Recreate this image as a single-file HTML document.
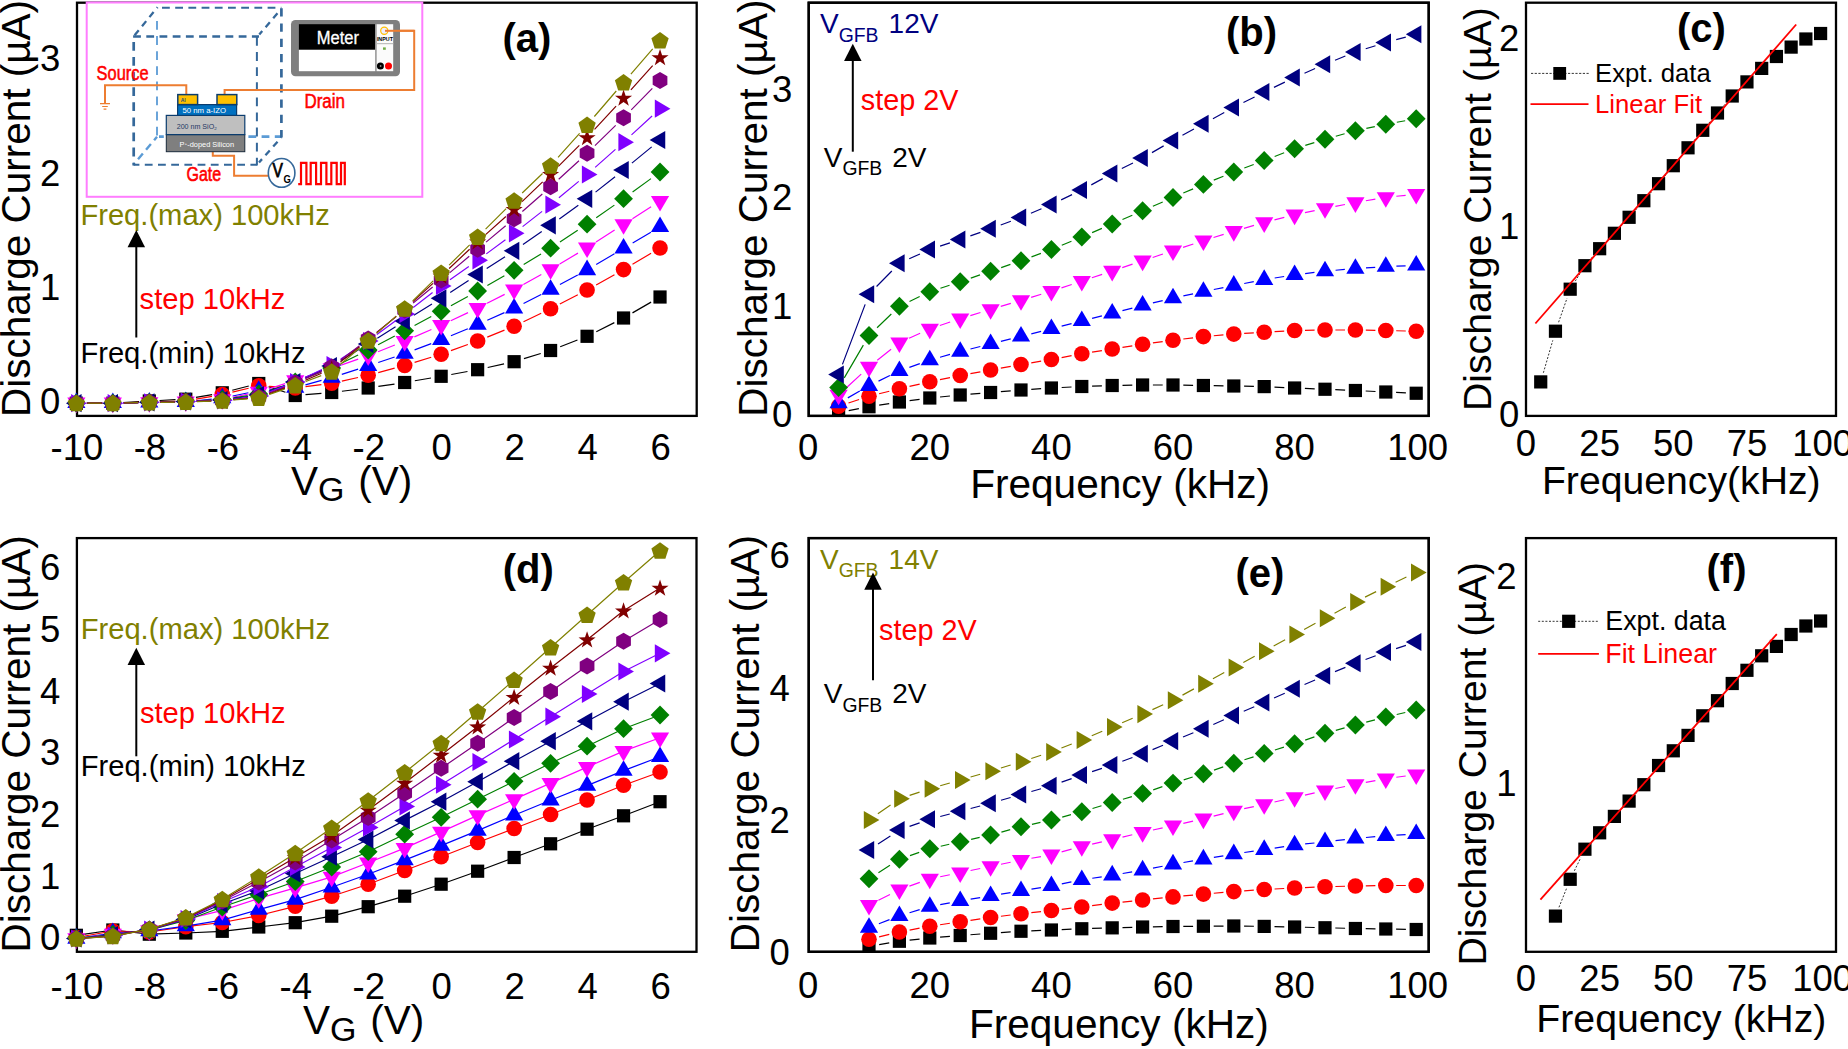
<!DOCTYPE html>
<html><head><meta charset="utf-8"><title>Discharge current figure</title>
<style>html,body{margin:0;padding:0;background:#fff;overflow:hidden}svg{display:block}</style></head>
<body>
<svg width="1848" height="1049" viewBox="0 0 1848 1049" font-family="&quot;Liberation Sans&quot;, Arial, sans-serif">
<rect width="1848" height="1049" fill="#fff"/>
<rect x="77" y="2.7" width="619.7" height="413.2" fill="none" stroke="#000" stroke-width="2.3"/>
<path d="M86.65 403.2L102.53 403.2M123.11 402.58L139.03 401.62M159.6 400.49L175.5 399.71M195.94 397.42L212.12 394.58M232.25 390.26L248.77 386.04M268.53 386.72L285.45 392.28M305.5 394.66L321.44 393.34M341.93 391.24L357.97 389.26M378.37 386.46L394.49 384.04M414.82 380.77L431 378.03M451.29 374.47L467.49 371.53M487.69 367.49L504.05 363.91M523.96 358.68L540.74 353.52M560.19 346.76L577.47 340.04M596.28 331.68L614.34 322.62M632.48 312.86L651.1 302.14" stroke="#000000" stroke-width="1.2" fill="none"/>
<rect x="69.75" y="396.6" width="13.2" height="13.2" fill="#000000"/>
<rect x="106.23" y="396.6" width="13.2" height="13.2" fill="#000000"/>
<rect x="142.71" y="394.4" width="13.2" height="13.2" fill="#000000"/>
<rect x="179.19" y="392.6" width="13.2" height="13.2" fill="#000000"/>
<rect x="215.67" y="386.2" width="13.2" height="13.2" fill="#000000"/>
<rect x="252.15" y="376.9" width="13.2" height="13.2" fill="#000000"/>
<rect x="288.63" y="388.9" width="13.2" height="13.2" fill="#000000"/>
<rect x="325.11" y="385.9" width="13.2" height="13.2" fill="#000000"/>
<rect x="361.59" y="381.4" width="13.2" height="13.2" fill="#000000"/>
<rect x="398.07" y="375.9" width="13.2" height="13.2" fill="#000000"/>
<rect x="434.55" y="369.7" width="13.2" height="13.2" fill="#000000"/>
<rect x="471.03" y="363.1" width="13.2" height="13.2" fill="#000000"/>
<rect x="507.51" y="355.1" width="13.2" height="13.2" fill="#000000"/>
<rect x="543.99" y="343.9" width="13.2" height="13.2" fill="#000000"/>
<rect x="580.47" y="329.7" width="13.2" height="13.2" fill="#000000"/>
<rect x="616.95" y="311.4" width="13.2" height="13.2" fill="#000000"/>
<rect x="653.43" y="290.4" width="13.2" height="13.2" fill="#000000"/>
<path d="M86.75 403.2L102.43 403.2M123.22 402.86L138.92 402.34M159.71 401.72L175.39 401.28M196.03 399.18L212.03 396.32M232.39 392.09L248.63 388.21M269.13 386.43L284.85 387.37M305.54 386.67L321.4 384.63M341.87 381.07L358.03 377.53M378.23 372.6L394.63 368.2M414.6 362.42L431.22 357.28M450.93 350.66L467.85 344.54M487.27 337.09L504.47 330.11M523.5 321.72L541.2 313.28M559.83 304.04L577.83 294.76M596.15 284.92L614.47 274.68M632.5 264.3L651.08 253.3" stroke="#ff0000" stroke-width="1.2" fill="none"/>
<circle cx="76.35" cy="403.2" r="7.8" fill="#ff0000"/>
<circle cx="112.83" cy="403.2" r="7.8" fill="#ff0000"/>
<circle cx="149.31" cy="402" r="7.8" fill="#ff0000"/>
<circle cx="185.79" cy="401" r="7.8" fill="#ff0000"/>
<circle cx="222.27" cy="394.5" r="7.8" fill="#ff0000"/>
<circle cx="258.75" cy="385.8" r="7.8" fill="#ff0000"/>
<circle cx="295.23" cy="388" r="7.8" fill="#ff0000"/>
<circle cx="331.71" cy="383.3" r="7.8" fill="#ff0000"/>
<circle cx="368.19" cy="375.3" r="7.8" fill="#ff0000"/>
<circle cx="404.67" cy="365.5" r="7.8" fill="#ff0000"/>
<circle cx="441.15" cy="354.2" r="7.8" fill="#ff0000"/>
<circle cx="477.63" cy="341" r="7.8" fill="#ff0000"/>
<circle cx="514.11" cy="326.2" r="7.8" fill="#ff0000"/>
<circle cx="550.59" cy="308.8" r="7.8" fill="#ff0000"/>
<circle cx="587.07" cy="290" r="7.8" fill="#ff0000"/>
<circle cx="623.55" cy="269.6" r="7.8" fill="#ff0000"/>
<circle cx="660.03" cy="248" r="7.8" fill="#ff0000"/>
<path d="M86.95 402.8L102.23 402.8M123.43 402.68L138.71 402.52M159.91 402.23L175.19 401.97M196.34 400.73L211.72 399.17M232.65 395.97L248.37 392.73M269.31 389.73L284.67 388.47M305.45 384.8L321.49 380.4M341.8 374.36L358.1 369.14M378.23 362.51L394.63 356.99M414.59 349.87L431.23 343.63M450.93 335.8L467.85 328.7M487.31 320.28L504.43 312.62M523.54 303.46L541.16 294.44M559.93 284.58L577.73 275.02M596.19 264.6L614.43 253.8M632.67 243L650.91 232.2" stroke="#0000ff" stroke-width="1.2" fill="none"/>
<polygon points="76.35,392.4 67.25,408 85.45,408" fill="#0000ff"/>
<polygon points="112.83,392.4 103.73,408 121.93,408" fill="#0000ff"/>
<polygon points="149.31,392 140.21,407.6 158.41,407.6" fill="#0000ff"/>
<polygon points="185.79,391.4 176.69,407 194.89,407" fill="#0000ff"/>
<polygon points="222.27,387.7 213.17,403.3 231.37,403.3" fill="#0000ff"/>
<polygon points="258.75,380.2 249.65,395.8 267.85,395.8" fill="#0000ff"/>
<polygon points="295.23,377.2 286.13,392.8 304.33,392.8" fill="#0000ff"/>
<polygon points="331.71,367.2 322.61,382.8 340.81,382.8" fill="#0000ff"/>
<polygon points="368.19,355.5 359.09,371.1 377.29,371.1" fill="#0000ff"/>
<polygon points="404.67,343.2 395.57,358.8 413.77,358.8" fill="#0000ff"/>
<polygon points="441.15,329.5 432.05,345.1 450.25,345.1" fill="#0000ff"/>
<polygon points="477.63,314.2 468.53,329.8 486.73,329.8" fill="#0000ff"/>
<polygon points="514.11,297.9 505.01,313.5 523.21,313.5" fill="#0000ff"/>
<polygon points="550.59,279.2 541.49,294.8 559.69,294.8" fill="#0000ff"/>
<polygon points="587.07,259.6 577.97,275.2 596.17,275.2" fill="#0000ff"/>
<polygon points="623.55,238 614.45,253.6 632.65,253.6" fill="#0000ff"/>
<polygon points="660.03,216.4 650.93,232 669.13,232" fill="#0000ff"/>
<path d="M86.95 402.8L102.23 402.8M123.43 402.68L138.71 402.52M159.91 402.2L175.19 401.9M196.37 401.03L211.69 400.07M232.65 397.27L248.37 394.03M268.86 388.71L285.12 383.59M305.3 377.09L321.64 371.71M341.72 364.91L358.18 359.19M378.03 351.76L394.83 345.04M414.39 336.86L431.43 329.44M450.75 320.7L468.03 312.6M487.08 303.31L504.66 294.39M523.38 284.47L541.32 274.53M559.7 263.98L577.96 253.12M596 241.99L614.62 230.11M632.48 218.69L651.1 206.81" stroke="#ff00ff" stroke-width="1.2" fill="none"/>
<polygon points="67.25,397.6 85.45,397.6 76.35,413.2" fill="#ff00ff"/>
<polygon points="103.73,397.6 121.93,397.6 112.83,413.2" fill="#ff00ff"/>
<polygon points="140.21,397.2 158.41,397.2 149.31,412.8" fill="#ff00ff"/>
<polygon points="176.69,396.5 194.89,396.5 185.79,412.1" fill="#ff00ff"/>
<polygon points="213.17,394.2 231.37,394.2 222.27,409.8" fill="#ff00ff"/>
<polygon points="249.65,386.7 267.85,386.7 258.75,402.3" fill="#ff00ff"/>
<polygon points="286.13,375.2 304.33,375.2 295.23,390.8" fill="#ff00ff"/>
<polygon points="322.61,363.2 340.81,363.2 331.71,378.8" fill="#ff00ff"/>
<polygon points="359.09,350.5 377.29,350.5 368.19,366.1" fill="#ff00ff"/>
<polygon points="395.57,335.9 413.77,335.9 404.67,351.5" fill="#ff00ff"/>
<polygon points="432.05,320 450.25,320 441.15,335.6" fill="#ff00ff"/>
<polygon points="468.53,302.9 486.73,302.9 477.63,318.5" fill="#ff00ff"/>
<polygon points="505.01,284.4 523.21,284.4 514.11,300" fill="#ff00ff"/>
<polygon points="541.49,264.2 559.69,264.2 550.59,279.8" fill="#ff00ff"/>
<polygon points="577.97,242.5 596.17,242.5 587.07,258.1" fill="#ff00ff"/>
<polygon points="614.45,219.2 632.65,219.2 623.55,234.8" fill="#ff00ff"/>
<polygon points="650.93,195.9 669.13,195.9 660.03,211.5" fill="#ff00ff"/>
<path d="M87.55 403.2L101.63 403.2M124.03 402.92L138.11 402.58M160.51 402.05L174.59 401.75M196.97 400.89L211.09 400.11M233.34 397.83L247.68 395.67M269.39 390.5L284.59 385.5M305.69 377.99L321.25 372.01M341.75 363.04L358.15 354.96M378.1 344.78L394.76 336.02M414.55 325.52L431.27 316.58M450.94 305.85L467.84 296.45M487.37 285.47L504.37 275.83M523.69 264.5L541.01 254M559.95 242.04L577.71 230.36M596.25 217.78L614.37 205.12M632.59 192.09L650.99 178.61" stroke="#008000" stroke-width="1.2" fill="none"/>
<polygon points="76.35,393.8 85.75,403.2 76.35,412.6 66.95,403.2" fill="#008000"/>
<polygon points="112.83,393.8 122.23,403.2 112.83,412.6 103.43,403.2" fill="#008000"/>
<polygon points="149.31,392.9 158.71,402.3 149.31,411.7 139.91,402.3" fill="#008000"/>
<polygon points="185.79,392.1 195.19,401.5 185.79,410.9 176.39,401.5" fill="#008000"/>
<polygon points="222.27,390.1 231.67,399.5 222.27,408.9 212.87,399.5" fill="#008000"/>
<polygon points="258.75,384.6 268.15,394 258.75,403.4 249.35,394" fill="#008000"/>
<polygon points="295.23,372.6 304.63,382 295.23,391.4 285.83,382" fill="#008000"/>
<polygon points="331.71,358.6 341.11,368 331.71,377.4 322.31,368" fill="#008000"/>
<polygon points="368.19,340.6 377.59,350 368.19,359.4 358.79,350" fill="#008000"/>
<polygon points="404.67,321.4 414.07,330.8 404.67,340.2 395.27,330.8" fill="#008000"/>
<polygon points="441.15,301.9 450.55,311.3 441.15,320.7 431.75,311.3" fill="#008000"/>
<polygon points="477.63,281.6 487.03,291 477.63,300.4 468.23,291" fill="#008000"/>
<polygon points="514.11,260.9 523.51,270.3 514.11,279.7 504.71,270.3" fill="#008000"/>
<polygon points="550.59,238.8 559.99,248.2 550.59,257.6 541.19,248.2" fill="#008000"/>
<polygon points="587.07,214.8 596.47,224.2 587.07,233.6 577.67,224.2" fill="#008000"/>
<polygon points="623.55,189.3 632.95,198.7 623.55,208.1 614.15,198.7" fill="#008000"/>
<polygon points="660.03,162.6 669.43,172 660.03,181.4 650.63,172" fill="#008000"/>
<path d="M87.15 403.2L102.03 403.2M123.63 402.93L138.51 402.57M160.11 402.06L174.99 401.74M196.58 401.06L211.48 400.44M232.97 398.53L248.05 396.47M268.92 391.37L285.06 385.63M305.12 377.66L321.82 370.34M340.96 360.42L358.94 349.58M377.33 338.24L395.53 326.76M413.84 315.29L431.98 304.01M450.2 292.4L468.58 280.4M486.69 268.62L505.05 256.68M522.96 244.61L541.74 231.49M559.33 218.95L578.33 205.15M595.55 192.11L615.07 176.69M631.89 163.14L651.69 146.86" stroke="#000080" stroke-width="1.2" fill="none"/>
<polygon points="65.95,403.2 81.55,394.1 81.55,412.3" fill="#000080"/>
<polygon points="102.43,403.2 118.03,394.1 118.03,412.3" fill="#000080"/>
<polygon points="138.91,402.3 154.51,393.2 154.51,411.4" fill="#000080"/>
<polygon points="175.39,401.5 190.99,392.4 190.99,410.6" fill="#000080"/>
<polygon points="211.87,400 227.47,390.9 227.47,409.1" fill="#000080"/>
<polygon points="248.35,395 263.95,385.9 263.95,404.1" fill="#000080"/>
<polygon points="284.83,382 300.43,372.9 300.43,391.1" fill="#000080"/>
<polygon points="321.31,366 336.91,356.9 336.91,375.1" fill="#000080"/>
<polygon points="357.79,344 373.39,334.9 373.39,353.1" fill="#000080"/>
<polygon points="394.27,321 409.87,311.9 409.87,330.1" fill="#000080"/>
<polygon points="430.75,298.3 446.35,289.2 446.35,307.4" fill="#000080"/>
<polygon points="467.23,274.5 482.83,265.4 482.83,283.6" fill="#000080"/>
<polygon points="503.71,250.8 519.31,241.7 519.31,259.9" fill="#000080"/>
<polygon points="540.19,225.3 555.79,216.2 555.79,234.4" fill="#000080"/>
<polygon points="576.67,198.8 592.27,189.7 592.27,207.9" fill="#000080"/>
<polygon points="613.15,170 628.75,160.9 628.75,179.1" fill="#000080"/>
<polygon points="649.63,140 665.23,130.9 665.23,149.1" fill="#000080"/>
<path d="M87.15 403.2L102.03 403.2M123.63 402.93L138.51 402.57M160.11 402.06L174.99 401.74M196.58 401.14L211.48 400.66M233 399.04L248.02 397.26M268.83 392.13L285.15 385.87M305.02 377.44L321.92 369.56M340.73 359.06L359.17 346.94M376.87 334.57L395.99 320.43M413.24 307.42L432.58 292.58M449.98 279.78L468.8 266.52M486.31 253.87L505.43 239.73M522.61 226.64L542.09 211.36M558.91 197.81L578.75 181.39M595.16 167.34L615.46 149.36M631.5 134.9L652.08 116" stroke="#8000ff" stroke-width="1.2" fill="none"/>
<polygon points="86.75,403.2 71.15,394.1 71.15,412.3" fill="#8000ff"/>
<polygon points="123.23,403.2 107.63,394.1 107.63,412.3" fill="#8000ff"/>
<polygon points="159.71,402.3 144.11,393.2 144.11,411.4" fill="#8000ff"/>
<polygon points="196.19,401.5 180.59,392.4 180.59,410.6" fill="#8000ff"/>
<polygon points="232.67,400.3 217.07,391.2 217.07,409.4" fill="#8000ff"/>
<polygon points="269.15,396 253.55,386.9 253.55,405.1" fill="#8000ff"/>
<polygon points="305.63,382 290.03,372.9 290.03,391.1" fill="#8000ff"/>
<polygon points="342.11,365 326.51,355.9 326.51,374.1" fill="#8000ff"/>
<polygon points="378.59,341 362.99,331.9 362.99,350.1" fill="#8000ff"/>
<polygon points="415.07,314 399.47,304.9 399.47,323.1" fill="#8000ff"/>
<polygon points="451.55,286 435.95,276.9 435.95,295.1" fill="#8000ff"/>
<polygon points="488.03,260.3 472.43,251.2 472.43,269.4" fill="#8000ff"/>
<polygon points="524.51,233.3 508.91,224.2 508.91,242.4" fill="#8000ff"/>
<polygon points="560.99,204.7 545.39,195.6 545.39,213.8" fill="#8000ff"/>
<polygon points="597.47,174.5 581.87,165.4 581.87,183.6" fill="#8000ff"/>
<polygon points="633.95,142.2 618.35,133.1 618.35,151.3" fill="#8000ff"/>
<polygon points="670.43,108.7 654.83,99.6 654.83,117.8" fill="#8000ff"/>
<path d="M87.35 403.2L101.83 403.2M123.83 402.93L138.31 402.57M160.31 402.12L174.79 401.88M196.78 401.34L211.28 400.86M233.22 399.45L247.8 398.05M269.02 393.06L284.96 386.94M305.3 378.58L321.64 371.42M340.44 360.3L359.46 345.7M376.8 332.15L396.06 316.85M413.17 303.01L432.65 286.99M449.55 272.9L469.23 256.3M486.07 242.14L505.67 225.76M522.38 211.45L542.32 193.95M558.7 179.27L578.96 160.73M594.94 145.62L615.68 125.38M631.25 109.85L652.33 88.35" stroke="#800080" stroke-width="1.2" fill="none"/>
<polygon points="76.35,394.7 83.71,398.95 83.71,407.45 76.35,411.7 68.99,407.45 68.99,398.95" fill="#800080"/>
<polygon points="112.83,394.7 120.19,398.95 120.19,407.45 112.83,411.7 105.47,407.45 105.47,398.95" fill="#800080"/>
<polygon points="149.31,393.8 156.67,398.05 156.67,406.55 149.31,410.8 141.95,406.55 141.95,398.05" fill="#800080"/>
<polygon points="185.79,393.2 193.15,397.45 193.15,405.95 185.79,410.2 178.43,405.95 178.43,397.45" fill="#800080"/>
<polygon points="222.27,392 229.63,396.25 229.63,404.75 222.27,409 214.91,404.75 214.91,396.25" fill="#800080"/>
<polygon points="258.75,388.5 266.11,392.75 266.11,401.25 258.75,405.5 251.39,401.25 251.39,392.75" fill="#800080"/>
<polygon points="295.23,374.5 302.59,378.75 302.59,387.25 295.23,391.5 287.87,387.25 287.87,378.75" fill="#800080"/>
<polygon points="331.71,358.5 339.07,362.75 339.07,371.25 331.71,375.5 324.35,371.25 324.35,362.75" fill="#800080"/>
<polygon points="368.19,330.5 375.55,334.75 375.55,343.25 368.19,347.5 360.83,343.25 360.83,334.75" fill="#800080"/>
<polygon points="404.67,301.5 412.03,305.75 412.03,314.25 404.67,318.5 397.31,314.25 397.31,305.75" fill="#800080"/>
<polygon points="441.15,271.5 448.51,275.75 448.51,284.25 441.15,288.5 433.79,284.25 433.79,275.75" fill="#800080"/>
<polygon points="477.63,240.7 484.99,244.95 484.99,253.45 477.63,257.7 470.27,253.45 470.27,244.95" fill="#800080"/>
<polygon points="514.11,210.2 521.47,214.45 521.47,222.95 514.11,227.2 506.75,222.95 506.75,214.45" fill="#800080"/>
<polygon points="550.59,178.2 557.95,182.45 557.95,190.95 550.59,195.2 543.23,190.95 543.23,182.45" fill="#800080"/>
<polygon points="587.07,144.8 594.43,149.05 594.43,157.55 587.07,161.8 579.71,157.55 579.71,149.05" fill="#800080"/>
<polygon points="623.55,109.2 630.91,113.45 630.91,121.95 623.55,126.2 616.19,121.95 616.19,113.45" fill="#800080"/>
<polygon points="660.03,72 667.39,76.25 667.39,84.75 660.03,89 652.67,84.75 652.67,76.25" fill="#800080"/>
<path d="M87.35 403.2L101.83 403.2M123.83 402.96L138.31 402.64M160.31 402.22L174.79 401.98M196.79 401.47L211.27 401.03M233.23 399.74L247.79 398.46M269.11 393.81L284.87 388.19M305.35 380.2L321.59 373.3M340.32 362.15L359.58 346.85M376.57 332.88L396.29 316.12M412.83 301.62L432.99 283.38M449.16 268.46L469.62 249.24M485.84 234.38L505.9 216.52M522.05 201.58L542.65 181.82M558.34 166.4L579.32 145.3M594.53 129.42L616.09 106.08M630.91 89.83L652.67 65.67" stroke="#800000" stroke-width="1.2" fill="none"/>
<polygon points="76.35,394.7 78.41,400.87 84.91,400.92 79.68,404.78 81.64,410.98 76.35,407.2 71.06,410.98 73.02,404.78 67.79,400.92 74.29,400.87" fill="#800000"/>
<polygon points="112.83,394.7 114.89,400.87 121.39,400.92 116.16,404.78 118.12,410.98 112.83,407.2 107.54,410.98 109.5,404.78 104.27,400.92 110.77,400.87" fill="#800000"/>
<polygon points="149.31,393.9 151.37,400.07 157.87,400.12 152.64,403.98 154.6,410.18 149.31,406.4 144.02,410.18 145.98,403.98 140.75,400.12 147.25,400.07" fill="#800000"/>
<polygon points="185.79,393.3 187.85,399.47 194.35,399.52 189.12,403.38 191.08,409.58 185.79,405.8 180.5,409.58 182.46,403.38 177.23,399.52 183.73,399.47" fill="#800000"/>
<polygon points="222.27,392.2 224.33,398.37 230.83,398.42 225.6,402.28 227.56,408.48 222.27,404.7 216.98,408.48 218.94,402.28 213.71,398.42 220.21,398.37" fill="#800000"/>
<polygon points="258.75,389 260.81,395.17 267.31,395.22 262.08,399.08 264.04,405.28 258.75,401.5 253.46,405.28 255.42,399.08 250.19,395.22 256.69,395.17" fill="#800000"/>
<polygon points="295.23,376 297.29,382.17 303.79,382.22 298.56,386.08 300.52,392.28 295.23,388.5 289.94,392.28 291.9,386.08 286.67,382.22 293.17,382.17" fill="#800000"/>
<polygon points="331.71,360.5 333.77,366.67 340.27,366.72 335.04,370.58 337,376.78 331.71,373 326.42,376.78 328.38,370.58 323.15,366.72 329.65,366.67" fill="#800000"/>
<polygon points="368.19,331.5 370.25,337.67 376.75,337.72 371.52,341.58 373.48,347.78 368.19,344 362.9,347.78 364.86,341.58 359.63,337.72 366.13,337.67" fill="#800000"/>
<polygon points="404.67,300.5 406.73,306.67 413.23,306.72 408,310.58 409.96,316.78 404.67,313 399.38,316.78 401.34,310.58 396.11,306.72 402.61,306.67" fill="#800000"/>
<polygon points="441.15,267.5 443.21,273.67 449.71,273.72 444.48,277.58 446.44,283.78 441.15,280 435.86,283.78 437.82,277.58 432.59,273.72 439.09,273.67" fill="#800000"/>
<polygon points="477.63,233.2 479.69,239.37 486.19,239.42 480.96,243.28 482.92,249.48 477.63,245.7 472.34,249.48 474.3,243.28 469.07,239.42 475.57,239.37" fill="#800000"/>
<polygon points="514.11,200.7 516.17,206.87 522.67,206.92 517.44,210.78 519.4,216.98 514.11,213.2 508.82,216.98 510.78,210.78 505.55,206.92 512.05,206.87" fill="#800000"/>
<polygon points="550.59,165.7 552.65,171.87 559.15,171.92 553.92,175.78 555.88,181.98 550.59,178.2 545.3,181.98 547.26,175.78 542.03,171.92 548.53,171.87" fill="#800000"/>
<polygon points="587.07,129 589.13,135.17 595.63,135.22 590.4,139.08 592.36,145.28 587.07,141.5 581.78,145.28 583.74,139.08 578.51,135.22 585.01,135.17" fill="#800000"/>
<polygon points="623.55,89.5 625.61,95.67 632.11,95.72 626.88,99.58 628.84,105.78 623.55,102 618.26,105.78 620.22,99.58 614.99,95.72 621.49,95.67" fill="#800000"/>
<polygon points="660.03,49 662.09,55.17 668.59,55.22 663.36,59.08 665.32,65.28 660.03,61.5 654.74,65.28 656.7,59.08 651.47,55.22 657.97,55.17" fill="#800000"/>
<path d="M87.55 403.2L101.63 403.2M124.03 402.99L138.11 402.71M160.51 402.35L174.59 402.15M196.98 401.63L211.08 401.17M233.44 399.94L247.58 398.86M269.35 394.37L284.63 389.13M305.71 381.54L321.23 375.66M340.26 364.46L359.64 348.04M376.6 333.4L396.26 316.1M412.67 300.87L433.15 280.83M449.12 265.13L469.66 244.87M485.58 229.11L506.16 208.69M522.19 193.05L542.51 173.55M558.06 157.45L579.6 133.35M594.36 116.5L616.26 91M630.89 74.04L652.69 48.96" stroke="#808000" stroke-width="1.2" fill="none"/>
<polygon points="76.35,394.7 85,400.99 81.7,411.16 71,411.16 67.7,400.99" fill="#808000"/>
<polygon points="112.83,394.7 121.48,400.99 118.18,411.16 107.48,411.16 104.18,400.99" fill="#808000"/>
<polygon points="149.31,394 157.96,400.29 154.66,410.46 143.96,410.46 140.66,400.29" fill="#808000"/>
<polygon points="185.79,393.5 194.44,399.79 191.14,409.96 180.44,409.96 177.14,399.79" fill="#808000"/>
<polygon points="222.27,392.3 230.92,398.59 227.62,408.76 216.92,408.76 213.62,398.59" fill="#808000"/>
<polygon points="258.75,389.5 267.4,395.79 264.1,405.96 253.4,405.96 250.1,395.79" fill="#808000"/>
<polygon points="295.23,377 303.88,383.29 300.58,393.46 289.88,393.46 286.58,383.29" fill="#808000"/>
<polygon points="331.71,363.2 340.36,369.49 337.06,379.66 326.36,379.66 323.06,369.49" fill="#808000"/>
<polygon points="368.19,332.3 376.84,338.59 373.54,348.76 362.84,348.76 359.54,338.59" fill="#808000"/>
<polygon points="404.67,300.2 413.32,306.49 410.02,316.66 399.32,316.66 396.02,306.49" fill="#808000"/>
<polygon points="441.15,264.5 449.8,270.79 446.5,280.96 435.8,280.96 432.5,270.79" fill="#808000"/>
<polygon points="477.63,228.5 486.28,234.79 482.98,244.96 472.28,244.96 468.98,234.79" fill="#808000"/>
<polygon points="514.11,192.3 522.76,198.59 519.46,208.76 508.76,208.76 505.46,198.59" fill="#808000"/>
<polygon points="550.59,157.3 559.24,163.59 555.94,173.76 545.24,173.76 541.94,163.59" fill="#808000"/>
<polygon points="587.07,116.5 595.72,122.79 592.42,132.96 581.72,132.96 578.42,122.79" fill="#808000"/>
<polygon points="623.55,74 632.2,80.29 628.9,90.46 618.2,90.46 614.9,80.29" fill="#808000"/>
<polygon points="660.03,32 668.68,38.29 665.38,48.46 654.68,48.46 651.38,38.29" fill="#808000"/>
<g>
<rect x="86.7" y="2.5" width="335.6" height="194.3" fill="#fff" stroke="#ff7dff" stroke-width="2"/>
<g fill="none">
<g stroke="#5b9bd5">
<path d="M157 21V136.7" stroke-width="1.8" stroke-dasharray="8.8 6.3"/>
<path d="M159 136.6H281.4" stroke-width="2.7" stroke-dasharray="7.8 5.4" stroke-dashoffset="3"/>
<path d="M157 136.7L133.6 164.6" stroke-width="2.4" stroke-dasharray="7.5 5" stroke-dashoffset="3"/>
</g><g stroke="#35689a">
<path d="M133.1 36.5H259" stroke-width="2.7" stroke-dasharray="7.8 5.4"/>
<path d="M133.7 41.9V165.5" stroke-width="2.7" stroke-dasharray="8.8 6.3"/>
<path d="M256.9 37V165.5" stroke-width="2" stroke-dasharray="8.8 6.3"/>
<path d="M133.6 164.7H256.8" stroke-width="1.9" stroke-dasharray="7.8 5.4" stroke-dashoffset="2"/>
<path d="M162 7.8H281.4" stroke-width="2.1" stroke-dasharray="7.8 5.4"/>
<path d="M281.4 8.3V137.5" stroke-width="2.7" stroke-dasharray="8.3 6.9"/>
<path d="M134.6 35.2L157.6 7.2" stroke-width="2.3" stroke-dasharray="6.5 5.2"/>
<path d="M259.3 34.5L279 11.5" stroke-width="2.3" stroke-dasharray="6.5 5.2" stroke-dashoffset="2"/>
<path d="M259 162.5L281.4 137.3" stroke-width="2.3" stroke-dasharray="6.5 5.2" stroke-dashoffset="2"/>
</g></g>
<g fill="none" stroke="#ed7d31" stroke-width="2">
<path d="M105 103.5V85.3H186.3V94"/>
<path d="M100 103.7H110M102.2 106.5H107.8M103.6 109.1H106.4" stroke-width="1.2"/>
<path d="M224.6 94V90H414.2V30.8H385"/>
<path d="M212.8 151.5V155.8H234.1V175.8H268.5"/>
</g>
<rect x="166.3" y="134.6" width="78.5" height="17.1" fill="#7f7f7f" stroke="#1a2a3a" stroke-width="1"/>
<rect x="166.3" y="115.4" width="78.5" height="19.2" fill="#bfbfbf" stroke="#0b3c6e" stroke-width="1.2"/>
<rect x="177.6" y="104.6" width="59" height="10.8" fill="#0070c0" stroke="#0b3c6e" stroke-width="1.2"/>
<rect x="177.8" y="94.6" width="19.8" height="10" fill="#ffc000" stroke="#0b3c6e" stroke-width="1.5"/>
<rect x="217" y="94.6" width="19.8" height="10" fill="#ffc000" stroke="#0b3c6e" stroke-width="1.5"/>
<text x="180.7" y="102" font-size="5" fill="#1f4e79" font-weight="bold">Al</text>
<text x="182.5" y="112.6" font-size="6.4" fill="#fff" textLength="43.5" lengthAdjust="spacingAndGlyphs">50 nm a-IZO</text>
<text x="176.7" y="128.8" font-size="6.4" fill="#1f3864" textLength="40" lengthAdjust="spacingAndGlyphs">200 nm SiO<tspan font-size="4" dy="1.5">2</tspan></text>
<text x="179.6" y="146.8" font-size="6.4" fill="#fff" textLength="54.5" lengthAdjust="spacingAndGlyphs">P<tspan font-size="4" dy="-2.2">+</tspan><tspan dy="2.2">-doped Silicon</tspan></text>
<rect x="291" y="20" width="109" height="56.2" rx="4.5" fill="#7f7f7f"/>
<rect x="298.9" y="24.2" width="76.3" height="25.6" fill="#000"/>
<rect x="298.9" y="49.8" width="76.3" height="21.4" fill="#fff"/>
<rect x="375.2" y="24.2" width="1.5" height="47" fill="#a6a6a6"/>
<rect x="376.7" y="24.2" width="16.5" height="47" fill="#fbfbfb"/>
<rect x="376.7" y="43" width="16.5" height="1.2" fill="#bfbfbf"/>
<circle cx="384.3" cy="30.8" r="3.6" fill="#eef" stroke="#ffc000" stroke-width="1.2"/>
<text x="376.9" y="41.4" font-size="6.2" font-weight="bold" fill="#000" textLength="16" lengthAdjust="spacingAndGlyphs">INPUT</text>
<rect x="383" y="47.4" width="2.8" height="2.4" fill="#70ad47"/>
<circle cx="380.4" cy="66" r="3.5" fill="#000"/><circle cx="380.6" cy="66" r="0.9" fill="#888"/>
<circle cx="388.5" cy="66" r="3.5" fill="#ff0000"/>
<path d="M385 30.8H414.2" stroke="#ed7d31" stroke-width="2" fill="none"/>
<text x="316.7" y="44" font-size="17.5" fill="#fff" stroke="#fff" stroke-width="0.3" textLength="42.3" lengthAdjust="spacingAndGlyphs">Meter</text>
<text x="96.6" y="79.8" font-size="20" fill="#ff0000" stroke="#ff0000" stroke-width="0.55" textLength="52" lengthAdjust="spacingAndGlyphs">Source</text>
<text x="304.4" y="107.6" font-size="20" fill="#ff0000" stroke="#ff0000" stroke-width="0.55" textLength="40.6" lengthAdjust="spacingAndGlyphs">Drain</text>
<text x="186.5" y="181.3" font-size="19.6" fill="#ff0000" stroke="#ff0000" stroke-width="0.6" textLength="34.6" lengthAdjust="spacingAndGlyphs">Gate</text>
<ellipse cx="281.6" cy="172.9" rx="13.3" ry="14.4" fill="#fff" stroke="#35689a" stroke-width="1.6"/>
<text x="272.6" y="177.3" font-size="19.5" fill="#000" stroke="#000" stroke-width="0.75" textLength="10.4" lengthAdjust="spacingAndGlyphs">V</text>
<text x="283.4" y="182.7" font-size="11" fill="#000" font-weight="bold" textLength="7.4" lengthAdjust="spacingAndGlyphs">G</text>
<path d="M298.2 184.2H301V162.9H306.4V184.2H310.7V162.9H316.1V184.2H321V162.9H326.4V184.2H331.3V162.9H336.7V184.2H341V162.9H344.8V184.2H345.9" fill="none" stroke="#ff0000" stroke-width="2.2"/>
</g>
<text x="80.4" y="225.3" font-size="29.15" fill="#808000" text-anchor="start" >Freq.(max) 100kHz</text>
<text x="139.6" y="309.2" font-size="29.15" fill="#ff0000" text-anchor="start" >step 10kHz</text>
<text x="80.4" y="363.3" font-size="29.15" fill="#000000" text-anchor="start" >Freq.(min) 10kHz</text>
<line x1="136.3" y1="337.5" x2="136.3" y2="246.3" stroke="#000" stroke-width="2"/>
<polygon points="136.3,230 127.55,247.3 145.05,247.3" fill="#000"/>
<text x="502.5" y="51.7" font-size="40" fill="#000" text-anchor="start" font-weight="bold" >(a)</text>
<text x="60.2" y="413.87" font-size="36.5" fill="#000" text-anchor="end" >0</text>
<text x="60.2" y="299.77" font-size="36.5" fill="#000" text-anchor="end" >1</text>
<text x="60.2" y="185.57" font-size="36.5" fill="#000" text-anchor="end" >2</text>
<text x="60.2" y="71.47" font-size="36.5" fill="#000" text-anchor="end" >3</text>
<text x="76.95" y="460.3" font-size="36.5" fill="#000" text-anchor="middle" >-10</text>
<text x="149.91" y="460.3" font-size="36.5" fill="#000" text-anchor="middle" >-8</text>
<text x="222.87" y="460.3" font-size="36.5" fill="#000" text-anchor="middle" >-6</text>
<text x="295.83" y="460.3" font-size="36.5" fill="#000" text-anchor="middle" >-4</text>
<text x="368.79" y="460.3" font-size="36.5" fill="#000" text-anchor="middle" >-2</text>
<text x="441.75" y="460.3" font-size="36.5" fill="#000" text-anchor="middle" >0</text>
<text x="514.71" y="460.3" font-size="36.5" fill="#000" text-anchor="middle" >2</text>
<text x="587.67" y="460.3" font-size="36.5" fill="#000" text-anchor="middle" >4</text>
<text x="660.63" y="460.3" font-size="36.5" fill="#000" text-anchor="middle" >6</text>
<text transform="translate(29.65 417.1) rotate(-90)" font-size="40.5" fill="#000">Discharge Current (µA)</text>
<text x="291" y="494.6" font-size="40.5" fill="#000">V<tspan font-size="34" dy="6.2">G</tspan><tspan dy="-6.2" dx="2.5"> (V)</tspan></text>
<rect x="76.9" y="538.1" width="619.6" height="413.7" fill="none" stroke="#000" stroke-width="2.3"/>
<path d="M76.35 935.3L112.83 930M112.83 930L149.31 934.2M149.31 934.2L185.79 933M185.79 933L222.27 931.3M222.27 931.3L258.75 927M258.75 927L295.23 922.7M295.23 922.7L331.71 916.2M331.71 916.2L368.19 906.7M368.19 906.7L404.67 896.2M404.67 896.2L441.15 884.2M441.15 884.2L477.63 871.2M477.63 871.2L514.11 857.5M514.11 857.5L550.59 843.8M550.59 843.8L587.07 829.2M587.07 829.2L623.55 815.8M623.55 815.8L660.03 801.7" stroke="#000000" stroke-width="1.2" fill="none"/>
<rect x="69.75" y="928.7" width="13.2" height="13.2" fill="#000000"/>
<rect x="106.23" y="923.4" width="13.2" height="13.2" fill="#000000"/>
<rect x="142.71" y="927.6" width="13.2" height="13.2" fill="#000000"/>
<rect x="179.19" y="926.4" width="13.2" height="13.2" fill="#000000"/>
<rect x="215.67" y="924.7" width="13.2" height="13.2" fill="#000000"/>
<rect x="252.15" y="920.4" width="13.2" height="13.2" fill="#000000"/>
<rect x="288.63" y="916.1" width="13.2" height="13.2" fill="#000000"/>
<rect x="325.11" y="909.6" width="13.2" height="13.2" fill="#000000"/>
<rect x="361.59" y="900.1" width="13.2" height="13.2" fill="#000000"/>
<rect x="398.07" y="889.6" width="13.2" height="13.2" fill="#000000"/>
<rect x="434.55" y="877.6" width="13.2" height="13.2" fill="#000000"/>
<rect x="471.03" y="864.6" width="13.2" height="13.2" fill="#000000"/>
<rect x="507.51" y="850.9" width="13.2" height="13.2" fill="#000000"/>
<rect x="543.99" y="837.2" width="13.2" height="13.2" fill="#000000"/>
<rect x="580.47" y="822.6" width="13.2" height="13.2" fill="#000000"/>
<rect x="616.95" y="809.2" width="13.2" height="13.2" fill="#000000"/>
<rect x="653.43" y="795.1" width="13.2" height="13.2" fill="#000000"/>
<path d="M76.35 937.5L112.83 931M112.83 931L149.31 932M149.31 932L185.79 926.7M185.79 926.7L222.27 922.5M222.27 922.5L258.75 915.5M258.75 915.5L295.23 906.3M295.23 906.3L331.71 896.2M331.71 896.2L368.19 884.2M368.19 884.2L404.67 870.5M404.67 870.5L441.15 856.7M441.15 856.7L477.63 842.5M477.63 842.5L514.11 828.5M514.11 828.5L550.59 814.5M550.59 814.5L587.07 800M587.07 800L623.55 785.3M623.55 785.3L660.03 772" stroke="#ff0000" stroke-width="1.2" fill="none"/>
<circle cx="76.35" cy="937.5" r="7.8" fill="#ff0000"/>
<circle cx="112.83" cy="931" r="7.8" fill="#ff0000"/>
<circle cx="149.31" cy="932" r="7.8" fill="#ff0000"/>
<circle cx="185.79" cy="926.7" r="7.8" fill="#ff0000"/>
<circle cx="222.27" cy="922.5" r="7.8" fill="#ff0000"/>
<circle cx="258.75" cy="915.5" r="7.8" fill="#ff0000"/>
<circle cx="295.23" cy="906.3" r="7.8" fill="#ff0000"/>
<circle cx="331.71" cy="896.2" r="7.8" fill="#ff0000"/>
<circle cx="368.19" cy="884.2" r="7.8" fill="#ff0000"/>
<circle cx="404.67" cy="870.5" r="7.8" fill="#ff0000"/>
<circle cx="441.15" cy="856.7" r="7.8" fill="#ff0000"/>
<circle cx="477.63" cy="842.5" r="7.8" fill="#ff0000"/>
<circle cx="514.11" cy="828.5" r="7.8" fill="#ff0000"/>
<circle cx="550.59" cy="814.5" r="7.8" fill="#ff0000"/>
<circle cx="587.07" cy="800" r="7.8" fill="#ff0000"/>
<circle cx="623.55" cy="785.3" r="7.8" fill="#ff0000"/>
<circle cx="660.03" cy="772" r="7.8" fill="#ff0000"/>
<path d="M76.35 938.5L112.83 933M112.83 933L149.31 931M149.31 931L185.79 926.1M185.79 926.1L222.27 920.1M222.27 920.1L258.75 909.6M258.75 909.6L295.23 899.6M295.23 899.6L331.71 887.3M331.71 887.3L368.19 874.3M368.19 874.3L404.67 860.1M404.67 860.1L441.15 845.6M441.15 845.6L477.63 830.6M477.63 830.6L514.11 815.2M514.11 815.2L550.59 800.2M550.59 800.2L587.07 785.6M587.07 785.6L623.55 770.6M623.55 770.6L660.03 756.8" stroke="#0000ff" stroke-width="1.2" fill="none"/>
<polygon points="76.35,928.1 67.25,943.7 85.45,943.7" fill="#0000ff"/>
<polygon points="112.83,922.6 103.73,938.2 121.93,938.2" fill="#0000ff"/>
<polygon points="149.31,920.6 140.21,936.2 158.41,936.2" fill="#0000ff"/>
<polygon points="185.79,915.7 176.69,931.3 194.89,931.3" fill="#0000ff"/>
<polygon points="222.27,909.7 213.17,925.3 231.37,925.3" fill="#0000ff"/>
<polygon points="258.75,899.2 249.65,914.8 267.85,914.8" fill="#0000ff"/>
<polygon points="295.23,889.2 286.13,904.8 304.33,904.8" fill="#0000ff"/>
<polygon points="331.71,876.9 322.61,892.5 340.81,892.5" fill="#0000ff"/>
<polygon points="368.19,863.9 359.09,879.5 377.29,879.5" fill="#0000ff"/>
<polygon points="404.67,849.7 395.57,865.3 413.77,865.3" fill="#0000ff"/>
<polygon points="441.15,835.2 432.05,850.8 450.25,850.8" fill="#0000ff"/>
<polygon points="477.63,820.2 468.53,835.8 486.73,835.8" fill="#0000ff"/>
<polygon points="514.11,804.8 505.01,820.4 523.21,820.4" fill="#0000ff"/>
<polygon points="550.59,789.8 541.49,805.4 559.69,805.4" fill="#0000ff"/>
<polygon points="587.07,775.2 577.97,790.8 596.17,790.8" fill="#0000ff"/>
<polygon points="623.55,760.2 614.45,775.8 632.65,775.8" fill="#0000ff"/>
<polygon points="660.03,746.4 650.93,762 669.13,762" fill="#0000ff"/>
<path d="M76.35 938.5L112.83 934M112.83 934L149.31 930.5M149.31 930.5L185.79 919.4M185.79 919.4L222.27 910.4M222.27 910.4L258.75 898.4M258.75 898.4L295.23 887.9M295.23 887.9L331.71 876.9M331.71 876.9L368.19 862.7M368.19 862.7L404.67 848.1M404.67 848.1L441.15 831.9M441.15 831.9L477.63 815.4M477.63 815.4L514.11 799.4M514.11 799.4L550.59 783.1M550.59 783.1L587.07 767.1M587.07 767.1L623.55 751.1M623.55 751.1L660.03 737.7" stroke="#ff00ff" stroke-width="1.2" fill="none"/>
<polygon points="67.25,933.3 85.45,933.3 76.35,948.9" fill="#ff00ff"/>
<polygon points="103.73,928.8 121.93,928.8 112.83,944.4" fill="#ff00ff"/>
<polygon points="140.21,925.3 158.41,925.3 149.31,940.9" fill="#ff00ff"/>
<polygon points="176.69,914.2 194.89,914.2 185.79,929.8" fill="#ff00ff"/>
<polygon points="213.17,905.2 231.37,905.2 222.27,920.8" fill="#ff00ff"/>
<polygon points="249.65,893.2 267.85,893.2 258.75,908.8" fill="#ff00ff"/>
<polygon points="286.13,882.7 304.33,882.7 295.23,898.3" fill="#ff00ff"/>
<polygon points="322.61,871.7 340.81,871.7 331.71,887.3" fill="#ff00ff"/>
<polygon points="359.09,857.5 377.29,857.5 368.19,873.1" fill="#ff00ff"/>
<polygon points="395.57,842.9 413.77,842.9 404.67,858.5" fill="#ff00ff"/>
<polygon points="432.05,826.7 450.25,826.7 441.15,842.3" fill="#ff00ff"/>
<polygon points="468.53,810.2 486.73,810.2 477.63,825.8" fill="#ff00ff"/>
<polygon points="505.01,794.2 523.21,794.2 514.11,809.8" fill="#ff00ff"/>
<polygon points="541.49,777.9 559.69,777.9 550.59,793.5" fill="#ff00ff"/>
<polygon points="577.97,761.9 596.17,761.9 587.07,777.5" fill="#ff00ff"/>
<polygon points="614.45,745.9 632.65,745.9 623.55,761.5" fill="#ff00ff"/>
<polygon points="650.93,732.5 669.13,732.5 660.03,748.1" fill="#ff00ff"/>
<path d="M76.35 938.3L112.83 934.5M112.83 934.5L149.31 930M149.31 930L185.79 920.5M185.79 920.5L222.27 907M222.27 907L258.75 894.5M258.75 894.5L295.23 881.5M295.23 881.5L331.71 867M331.71 867L368.19 851.7M368.19 851.7L404.67 834.2M404.67 834.2L441.15 817.3M441.15 817.3L477.63 799.2M477.63 799.2L514.11 781.3M514.11 781.3L550.59 763.3M550.59 763.3L587.07 746.2M587.07 746.2L623.55 728.7M623.55 728.7L660.03 715" stroke="#008000" stroke-width="1.2" fill="none"/>
<polygon points="76.35,928.9 85.75,938.3 76.35,947.7 66.95,938.3" fill="#008000"/>
<polygon points="112.83,925.1 122.23,934.5 112.83,943.9 103.43,934.5" fill="#008000"/>
<polygon points="149.31,920.6 158.71,930 149.31,939.4 139.91,930" fill="#008000"/>
<polygon points="185.79,911.1 195.19,920.5 185.79,929.9 176.39,920.5" fill="#008000"/>
<polygon points="222.27,897.6 231.67,907 222.27,916.4 212.87,907" fill="#008000"/>
<polygon points="258.75,885.1 268.15,894.5 258.75,903.9 249.35,894.5" fill="#008000"/>
<polygon points="295.23,872.1 304.63,881.5 295.23,890.9 285.83,881.5" fill="#008000"/>
<polygon points="331.71,857.6 341.11,867 331.71,876.4 322.31,867" fill="#008000"/>
<polygon points="368.19,842.3 377.59,851.7 368.19,861.1 358.79,851.7" fill="#008000"/>
<polygon points="404.67,824.8 414.07,834.2 404.67,843.6 395.27,834.2" fill="#008000"/>
<polygon points="441.15,807.9 450.55,817.3 441.15,826.7 431.75,817.3" fill="#008000"/>
<polygon points="477.63,789.8 487.03,799.2 477.63,808.6 468.23,799.2" fill="#008000"/>
<polygon points="514.11,771.9 523.51,781.3 514.11,790.7 504.71,781.3" fill="#008000"/>
<polygon points="550.59,753.9 559.99,763.3 550.59,772.7 541.19,763.3" fill="#008000"/>
<polygon points="587.07,736.8 596.47,746.2 587.07,755.6 577.67,746.2" fill="#008000"/>
<polygon points="623.55,719.3 632.95,728.7 623.55,738.1 614.15,728.7" fill="#008000"/>
<polygon points="660.03,705.6 669.43,715 660.03,724.4 650.63,715" fill="#008000"/>
<path d="M76.35 938.5L112.83 935M112.83 935L149.31 929.5M149.31 929.5L185.79 919.5M185.79 919.5L222.27 904M222.27 904L258.75 890.5M258.75 890.5L295.23 873.5M295.23 873.5L331.71 856.7M331.71 856.7L368.19 839.5M368.19 839.5L404.67 820.4M404.67 820.4L441.15 801.7M441.15 801.7L477.63 781.7M477.63 781.7L514.11 761.2M514.11 761.2L550.59 741.2M550.59 741.2L587.07 721.3M587.07 721.3L623.55 701.7M623.55 701.7L660.03 683.5" stroke="#000080" stroke-width="1.2" fill="none"/>
<polygon points="65.95,938.5 81.55,929.4 81.55,947.6" fill="#000080"/>
<polygon points="102.43,935 118.03,925.9 118.03,944.1" fill="#000080"/>
<polygon points="138.91,929.5 154.51,920.4 154.51,938.6" fill="#000080"/>
<polygon points="175.39,919.5 190.99,910.4 190.99,928.6" fill="#000080"/>
<polygon points="211.87,904 227.47,894.9 227.47,913.1" fill="#000080"/>
<polygon points="248.35,890.5 263.95,881.4 263.95,899.6" fill="#000080"/>
<polygon points="284.83,873.5 300.43,864.4 300.43,882.6" fill="#000080"/>
<polygon points="321.31,856.7 336.91,847.6 336.91,865.8" fill="#000080"/>
<polygon points="357.79,839.5 373.39,830.4 373.39,848.6" fill="#000080"/>
<polygon points="394.27,820.4 409.87,811.3 409.87,829.5" fill="#000080"/>
<polygon points="430.75,801.7 446.35,792.6 446.35,810.8" fill="#000080"/>
<polygon points="467.23,781.7 482.83,772.6 482.83,790.8" fill="#000080"/>
<polygon points="503.71,761.2 519.31,752.1 519.31,770.3" fill="#000080"/>
<polygon points="540.19,741.2 555.79,732.1 555.79,750.3" fill="#000080"/>
<polygon points="576.67,721.3 592.27,712.2 592.27,730.4" fill="#000080"/>
<polygon points="613.15,701.7 628.75,692.6 628.75,710.8" fill="#000080"/>
<polygon points="649.63,683.5 665.23,674.4 665.23,692.6" fill="#000080"/>
<path d="M76.35 938.5L112.83 935.5M112.83 935.5L149.31 929.5M149.31 929.5L185.79 919M185.79 919L222.27 902M222.27 902L258.75 886.7M258.75 886.7L295.23 867M295.23 867L331.71 847.5M331.71 847.5L368.19 827.5M368.19 827.5L404.67 806.5M404.67 806.5L441.15 784.7M441.15 784.7L477.63 762M477.63 762L514.11 739.5M514.11 739.5L550.59 716.7M550.59 716.7L587.07 694M587.07 694L623.55 671.5M623.55 671.5L660.03 653.3" stroke="#8000ff" stroke-width="1.2" fill="none"/>
<polygon points="86.75,938.5 71.15,929.4 71.15,947.6" fill="#8000ff"/>
<polygon points="123.23,935.5 107.63,926.4 107.63,944.6" fill="#8000ff"/>
<polygon points="159.71,929.5 144.11,920.4 144.11,938.6" fill="#8000ff"/>
<polygon points="196.19,919 180.59,909.9 180.59,928.1" fill="#8000ff"/>
<polygon points="232.67,902 217.07,892.9 217.07,911.1" fill="#8000ff"/>
<polygon points="269.15,886.7 253.55,877.6 253.55,895.8" fill="#8000ff"/>
<polygon points="305.63,867 290.03,857.9 290.03,876.1" fill="#8000ff"/>
<polygon points="342.11,847.5 326.51,838.4 326.51,856.6" fill="#8000ff"/>
<polygon points="378.59,827.5 362.99,818.4 362.99,836.6" fill="#8000ff"/>
<polygon points="415.07,806.5 399.47,797.4 399.47,815.6" fill="#8000ff"/>
<polygon points="451.55,784.7 435.95,775.6 435.95,793.8" fill="#8000ff"/>
<polygon points="488.03,762 472.43,752.9 472.43,771.1" fill="#8000ff"/>
<polygon points="524.51,739.5 508.91,730.4 508.91,748.6" fill="#8000ff"/>
<polygon points="560.99,716.7 545.39,707.6 545.39,725.8" fill="#8000ff"/>
<polygon points="597.47,694 581.87,684.9 581.87,703.1" fill="#8000ff"/>
<polygon points="633.95,671.5 618.35,662.4 618.35,680.6" fill="#8000ff"/>
<polygon points="670.43,653.3 654.83,644.2 654.83,662.4" fill="#8000ff"/>
<path d="M76.35 938.6L112.83 936M112.83 936L149.31 929.3M149.31 929.3L185.79 918.5M185.79 918.5L222.27 901M222.27 901L258.75 882M258.75 882L295.23 862M295.23 862L331.71 840M331.71 840L368.19 817.5M368.19 817.5L404.67 793.3M404.67 793.3L441.15 768.3M441.15 768.3L477.63 743.3M477.63 743.3L514.11 717.5M514.11 717.5L550.59 691.5M550.59 691.5L587.07 666M587.07 666L623.55 641.2M623.55 641.2L660.03 619.5" stroke="#800080" stroke-width="1.2" fill="none"/>
<polygon points="76.35,930.1 83.71,934.35 83.71,942.85 76.35,947.1 68.99,942.85 68.99,934.35" fill="#800080"/>
<polygon points="112.83,927.5 120.19,931.75 120.19,940.25 112.83,944.5 105.47,940.25 105.47,931.75" fill="#800080"/>
<polygon points="149.31,920.8 156.67,925.05 156.67,933.55 149.31,937.8 141.95,933.55 141.95,925.05" fill="#800080"/>
<polygon points="185.79,910 193.15,914.25 193.15,922.75 185.79,927 178.43,922.75 178.43,914.25" fill="#800080"/>
<polygon points="222.27,892.5 229.63,896.75 229.63,905.25 222.27,909.5 214.91,905.25 214.91,896.75" fill="#800080"/>
<polygon points="258.75,873.5 266.11,877.75 266.11,886.25 258.75,890.5 251.39,886.25 251.39,877.75" fill="#800080"/>
<polygon points="295.23,853.5 302.59,857.75 302.59,866.25 295.23,870.5 287.87,866.25 287.87,857.75" fill="#800080"/>
<polygon points="331.71,831.5 339.07,835.75 339.07,844.25 331.71,848.5 324.35,844.25 324.35,835.75" fill="#800080"/>
<polygon points="368.19,809 375.55,813.25 375.55,821.75 368.19,826 360.83,821.75 360.83,813.25" fill="#800080"/>
<polygon points="404.67,784.8 412.03,789.05 412.03,797.55 404.67,801.8 397.31,797.55 397.31,789.05" fill="#800080"/>
<polygon points="441.15,759.8 448.51,764.05 448.51,772.55 441.15,776.8 433.79,772.55 433.79,764.05" fill="#800080"/>
<polygon points="477.63,734.8 484.99,739.05 484.99,747.55 477.63,751.8 470.27,747.55 470.27,739.05" fill="#800080"/>
<polygon points="514.11,709 521.47,713.25 521.47,721.75 514.11,726 506.75,721.75 506.75,713.25" fill="#800080"/>
<polygon points="550.59,683 557.95,687.25 557.95,695.75 550.59,700 543.23,695.75 543.23,687.25" fill="#800080"/>
<polygon points="587.07,657.5 594.43,661.75 594.43,670.25 587.07,674.5 579.71,670.25 579.71,661.75" fill="#800080"/>
<polygon points="623.55,632.7 630.91,636.95 630.91,645.45 623.55,649.7 616.19,645.45 616.19,636.95" fill="#800080"/>
<polygon points="660.03,611 667.39,615.25 667.39,623.75 660.03,628 652.67,623.75 652.67,615.25" fill="#800080"/>
<path d="M76.35 938.7L112.83 936.2M112.83 936.2L149.31 929.2M149.31 929.2L185.79 918M185.79 918L222.27 900M222.27 900L258.75 879M258.75 879L295.23 857.5M295.23 857.5L331.71 835.8M331.71 835.8L368.19 810M368.19 810L404.67 783M404.67 783L441.15 755M441.15 755L477.63 726.7M477.63 726.7L514.11 697.2M514.11 697.2L550.59 668M550.59 668L587.07 639.7M587.07 639.7L623.55 610.8M623.55 610.8L660.03 588" stroke="#800000" stroke-width="1.2" fill="none"/>
<polygon points="76.35,930.2 78.41,936.37 84.91,936.42 79.68,940.28 81.64,946.48 76.35,942.7 71.06,946.48 73.02,940.28 67.79,936.42 74.29,936.37" fill="#800000"/>
<polygon points="112.83,927.7 114.89,933.87 121.39,933.92 116.16,937.78 118.12,943.98 112.83,940.2 107.54,943.98 109.5,937.78 104.27,933.92 110.77,933.87" fill="#800000"/>
<polygon points="149.31,920.7 151.37,926.87 157.87,926.92 152.64,930.78 154.6,936.98 149.31,933.2 144.02,936.98 145.98,930.78 140.75,926.92 147.25,926.87" fill="#800000"/>
<polygon points="185.79,909.5 187.85,915.67 194.35,915.72 189.12,919.58 191.08,925.78 185.79,922 180.5,925.78 182.46,919.58 177.23,915.72 183.73,915.67" fill="#800000"/>
<polygon points="222.27,891.5 224.33,897.67 230.83,897.72 225.6,901.58 227.56,907.78 222.27,904 216.98,907.78 218.94,901.58 213.71,897.72 220.21,897.67" fill="#800000"/>
<polygon points="258.75,870.5 260.81,876.67 267.31,876.72 262.08,880.58 264.04,886.78 258.75,883 253.46,886.78 255.42,880.58 250.19,876.72 256.69,876.67" fill="#800000"/>
<polygon points="295.23,849 297.29,855.17 303.79,855.22 298.56,859.08 300.52,865.28 295.23,861.5 289.94,865.28 291.9,859.08 286.67,855.22 293.17,855.17" fill="#800000"/>
<polygon points="331.71,827.3 333.77,833.47 340.27,833.52 335.04,837.38 337,843.58 331.71,839.8 326.42,843.58 328.38,837.38 323.15,833.52 329.65,833.47" fill="#800000"/>
<polygon points="368.19,801.5 370.25,807.67 376.75,807.72 371.52,811.58 373.48,817.78 368.19,814 362.9,817.78 364.86,811.58 359.63,807.72 366.13,807.67" fill="#800000"/>
<polygon points="404.67,774.5 406.73,780.67 413.23,780.72 408,784.58 409.96,790.78 404.67,787 399.38,790.78 401.34,784.58 396.11,780.72 402.61,780.67" fill="#800000"/>
<polygon points="441.15,746.5 443.21,752.67 449.71,752.72 444.48,756.58 446.44,762.78 441.15,759 435.86,762.78 437.82,756.58 432.59,752.72 439.09,752.67" fill="#800000"/>
<polygon points="477.63,718.2 479.69,724.37 486.19,724.42 480.96,728.28 482.92,734.48 477.63,730.7 472.34,734.48 474.3,728.28 469.07,724.42 475.57,724.37" fill="#800000"/>
<polygon points="514.11,688.7 516.17,694.87 522.67,694.92 517.44,698.78 519.4,704.98 514.11,701.2 508.82,704.98 510.78,698.78 505.55,694.92 512.05,694.87" fill="#800000"/>
<polygon points="550.59,659.5 552.65,665.67 559.15,665.72 553.92,669.58 555.88,675.78 550.59,672 545.3,675.78 547.26,669.58 542.03,665.72 548.53,665.67" fill="#800000"/>
<polygon points="587.07,631.2 589.13,637.37 595.63,637.42 590.4,641.28 592.36,647.48 587.07,643.7 581.78,647.48 583.74,641.28 578.51,637.42 585.01,637.37" fill="#800000"/>
<polygon points="623.55,602.3 625.61,608.47 632.11,608.52 626.88,612.38 628.84,618.58 623.55,614.8 618.26,618.58 620.22,612.38 614.99,608.52 621.49,608.47" fill="#800000"/>
<polygon points="660.03,579.5 662.09,585.67 668.59,585.72 663.36,589.58 665.32,595.78 660.03,592 654.74,595.78 656.7,589.58 651.47,585.72 657.97,585.67" fill="#800000"/>
<path d="M76.35 938.7L112.83 936.3M112.83 936.3L149.31 929.2M149.31 929.2L185.79 917.5M185.79 917.5L222.27 899.2M222.27 899.2L258.75 876.7M258.75 876.7L295.23 853.3M295.23 853.3L331.71 828M331.71 828L368.19 800.8M368.19 800.8L404.67 772.5M404.67 772.5L441.15 743.3M441.15 743.3L477.63 711.7M477.63 711.7L514.11 680M514.11 680L550.59 647.5M550.59 647.5L587.07 615M587.07 615L623.55 582.5M623.55 582.5L660.03 550.8" stroke="#808000" stroke-width="1.2" fill="none"/>
<polygon points="76.35,930.2 85,936.49 81.7,946.66 71,946.66 67.7,936.49" fill="#808000"/>
<polygon points="112.83,927.8 121.48,934.09 118.18,944.26 107.48,944.26 104.18,934.09" fill="#808000"/>
<polygon points="149.31,920.7 157.96,926.99 154.66,937.16 143.96,937.16 140.66,926.99" fill="#808000"/>
<polygon points="185.79,909 194.44,915.29 191.14,925.46 180.44,925.46 177.14,915.29" fill="#808000"/>
<polygon points="222.27,890.7 230.92,896.99 227.62,907.16 216.92,907.16 213.62,896.99" fill="#808000"/>
<polygon points="258.75,868.2 267.4,874.49 264.1,884.66 253.4,884.66 250.1,874.49" fill="#808000"/>
<polygon points="295.23,844.8 303.88,851.09 300.58,861.26 289.88,861.26 286.58,851.09" fill="#808000"/>
<polygon points="331.71,819.5 340.36,825.79 337.06,835.96 326.36,835.96 323.06,825.79" fill="#808000"/>
<polygon points="368.19,792.3 376.84,798.59 373.54,808.76 362.84,808.76 359.54,798.59" fill="#808000"/>
<polygon points="404.67,764 413.32,770.29 410.02,780.46 399.32,780.46 396.02,770.29" fill="#808000"/>
<polygon points="441.15,734.8 449.8,741.09 446.5,751.26 435.8,751.26 432.5,741.09" fill="#808000"/>
<polygon points="477.63,703.2 486.28,709.49 482.98,719.66 472.28,719.66 468.98,709.49" fill="#808000"/>
<polygon points="514.11,671.5 522.76,677.79 519.46,687.96 508.76,687.96 505.46,677.79" fill="#808000"/>
<polygon points="550.59,639 559.24,645.29 555.94,655.46 545.24,655.46 541.94,645.29" fill="#808000"/>
<polygon points="587.07,606.5 595.72,612.79 592.42,622.96 581.72,622.96 578.42,612.79" fill="#808000"/>
<polygon points="623.55,574 632.2,580.29 628.9,590.46 618.2,590.46 614.9,580.29" fill="#808000"/>
<polygon points="660.03,542.3 668.68,548.59 665.38,558.76 654.68,558.76 651.38,548.59" fill="#808000"/>
<text x="80.7" y="638.7" font-size="29.15" fill="#808000" text-anchor="start" >Freq.(max) 100kHz</text>
<text x="139.9" y="723.3" font-size="29.15" fill="#ff0000" text-anchor="start" >step 10kHz</text>
<text x="80.7" y="776.3" font-size="29.15" fill="#000000" text-anchor="start" >Freq.(min) 10kHz</text>
<line x1="136.3" y1="756.3" x2="136.3" y2="664.1" stroke="#000" stroke-width="2"/>
<polygon points="136.3,647.8 127.55,665.1 145.05,665.1" fill="#000"/>
<text x="502.7" y="583.3" font-size="40" fill="#000" text-anchor="start" font-weight="bold" >(d)</text>
<text x="60.2" y="950.37" font-size="36.5" fill="#000" text-anchor="end" >0</text>
<text x="60.2" y="888.67" font-size="36.5" fill="#000" text-anchor="end" >1</text>
<text x="60.2" y="826.97" font-size="36.5" fill="#000" text-anchor="end" >2</text>
<text x="60.2" y="765.27" font-size="36.5" fill="#000" text-anchor="end" >3</text>
<text x="60.2" y="703.57" font-size="36.5" fill="#000" text-anchor="end" >4</text>
<text x="60.2" y="641.87" font-size="36.5" fill="#000" text-anchor="end" >5</text>
<text x="60.2" y="580.17" font-size="36.5" fill="#000" text-anchor="end" >6</text>
<text x="76.95" y="998.9" font-size="36.5" fill="#000" text-anchor="middle" >-10</text>
<text x="149.91" y="998.9" font-size="36.5" fill="#000" text-anchor="middle" >-8</text>
<text x="222.87" y="998.9" font-size="36.5" fill="#000" text-anchor="middle" >-6</text>
<text x="295.83" y="998.9" font-size="36.5" fill="#000" text-anchor="middle" >-4</text>
<text x="368.79" y="998.9" font-size="36.5" fill="#000" text-anchor="middle" >-2</text>
<text x="441.75" y="998.9" font-size="36.5" fill="#000" text-anchor="middle" >0</text>
<text x="514.71" y="998.9" font-size="36.5" fill="#000" text-anchor="middle" >2</text>
<text x="587.67" y="998.9" font-size="36.5" fill="#000" text-anchor="middle" >4</text>
<text x="660.63" y="998.9" font-size="36.5" fill="#000" text-anchor="middle" >6</text>
<text transform="translate(29.65 952.4) rotate(-90)" font-size="40.5" fill="#000">Discharge Current (µA)</text>
<text x="303" y="1034.4" font-size="40.5" fill="#000">V<tspan font-size="34" dy="6.2">G</tspan><tspan dy="-6.2" dx="2.5"> (V)</tspan></text>
<rect x="808.7" y="2.7" width="620" height="413.2" fill="none" stroke="#000" stroke-width="2.3"/>
<clipPath id="cb"><rect x="808.7" y="2.8" width="620" height="412.9"/></clipPath><g clip-path="url(#cb)">
<path d="M848.72 410.59L858.88 408.66M879.18 405.16L889.22 403.59M909.61 400.66L919.59 399.34M940.05 396.99L949.95 396.01M970.47 394.16L980.33 393.34M1000.87 391.66L1010.73 390.84M1031.28 389.32L1041.12 388.68M1061.69 387.49L1071.51 387.01M1092.09 386.16L1101.91 385.84M1122.5 385.33L1132.3 385.17M1152.9 385L1162.7 385M1183.3 385.17L1193.1 385.33M1213.7 385.67L1223.5 385.83M1244.1 386.2L1253.9 386.4M1274.49 387.07L1284.31 387.53M1304.89 388.42L1314.71 388.83M1335.29 389.67L1345.11 390.08M1365.69 391.01L1375.51 391.49M1396.09 392.42L1405.91 392.83" stroke="#000000" stroke-width="1.2" fill="none"/>
<rect x="832" y="405.9" width="13.2" height="13.2" fill="#000000"/>
<rect x="862.4" y="400.15" width="13.2" height="13.2" fill="#000000"/>
<rect x="892.8" y="395.4" width="13.2" height="13.2" fill="#000000"/>
<rect x="923.2" y="391.4" width="13.2" height="13.2" fill="#000000"/>
<rect x="953.6" y="388.4" width="13.2" height="13.2" fill="#000000"/>
<rect x="984" y="385.9" width="13.2" height="13.2" fill="#000000"/>
<rect x="1014.4" y="383.4" width="13.2" height="13.2" fill="#000000"/>
<rect x="1044.8" y="381.4" width="13.2" height="13.2" fill="#000000"/>
<rect x="1075.2" y="379.9" width="13.2" height="13.2" fill="#000000"/>
<rect x="1105.6" y="378.9" width="13.2" height="13.2" fill="#000000"/>
<rect x="1136" y="378.4" width="13.2" height="13.2" fill="#000000"/>
<rect x="1166.4" y="378.4" width="13.2" height="13.2" fill="#000000"/>
<rect x="1196.8" y="378.9" width="13.2" height="13.2" fill="#000000"/>
<rect x="1227.2" y="379.4" width="13.2" height="13.2" fill="#000000"/>
<rect x="1257.6" y="380" width="13.2" height="13.2" fill="#000000"/>
<rect x="1288" y="381.4" width="13.2" height="13.2" fill="#000000"/>
<rect x="1318.4" y="382.65" width="13.2" height="13.2" fill="#000000"/>
<rect x="1348.8" y="383.9" width="13.2" height="13.2" fill="#000000"/>
<rect x="1379.2" y="385.4" width="13.2" height="13.2" fill="#000000"/>
<rect x="1409.6" y="386.65" width="13.2" height="13.2" fill="#000000"/>
<path d="M848.48 403L859.12 399.5M879.1 393.76L889.3 391.24M909.53 386.42L919.67 384.08M939.99 379.66L950.01 377.59M970.43 373.65L980.37 371.85M1000.83 368.15L1010.77 366.35M1031.26 362.81L1041.14 361.19M1061.62 357.57L1071.58 355.68M1092.08 352.14L1101.92 350.61M1122.48 347.39L1132.32 345.86M1152.91 342.88L1162.69 341.57M1183.33 338.98L1193.07 337.82M1213.77 335.75L1223.43 334.95M1244.18 333.45L1253.82 332.85M1274.58 331.62L1284.22 331.08M1305 330.33L1314.6 330.17M1335.4 330L1345 330M1365.8 330.17L1375.4 330.33M1396.2 330.76L1405.8 330.99" stroke="#ff0000" stroke-width="1.2" fill="none"/>
<circle cx="838.6" cy="406.25" r="7.8" fill="#ff0000"/>
<circle cx="869" cy="396.25" r="7.8" fill="#ff0000"/>
<circle cx="899.4" cy="388.75" r="7.8" fill="#ff0000"/>
<circle cx="929.8" cy="381.75" r="7.8" fill="#ff0000"/>
<circle cx="960.2" cy="375.5" r="7.8" fill="#ff0000"/>
<circle cx="990.6" cy="370" r="7.8" fill="#ff0000"/>
<circle cx="1021" cy="364.5" r="7.8" fill="#ff0000"/>
<circle cx="1051.4" cy="359.5" r="7.8" fill="#ff0000"/>
<circle cx="1081.8" cy="353.75" r="7.8" fill="#ff0000"/>
<circle cx="1112.2" cy="349" r="7.8" fill="#ff0000"/>
<circle cx="1142.6" cy="344.25" r="7.8" fill="#ff0000"/>
<circle cx="1173" cy="340.2" r="7.8" fill="#ff0000"/>
<circle cx="1203.4" cy="336.6" r="7.8" fill="#ff0000"/>
<circle cx="1233.8" cy="334.1" r="7.8" fill="#ff0000"/>
<circle cx="1264.2" cy="332.2" r="7.8" fill="#ff0000"/>
<circle cx="1294.6" cy="330.5" r="7.8" fill="#ff0000"/>
<circle cx="1325" cy="330" r="7.8" fill="#ff0000"/>
<circle cx="1355.4" cy="330" r="7.8" fill="#ff0000"/>
<circle cx="1385.8" cy="330.5" r="7.8" fill="#ff0000"/>
<circle cx="1416.2" cy="331.25" r="7.8" fill="#ff0000"/>
<path d="M847.82 397.87L859.78 391.08M878.51 381.16L889.89 375.54M909.39 367.32L919.81 363.63M940.01 357.25L949.99 354.45M970.47 348.98L980.33 346.47M1000.89 341.31L1010.71 338.89M1031.29 333.81L1041.11 331.39M1061.65 326.15L1071.55 323.55M1092.09 318.31L1101.91 315.89M1122.45 310.65L1132.35 308.05M1152.91 302.89L1162.69 300.56M1183.37 295.88L1193.03 293.82M1213.79 289.51L1223.41 287.59M1244.21 283.51L1253.79 281.69M1274.67 278.03L1284.13 276.52M1305.12 273.55L1314.48 272.4M1335.56 270.23L1344.84 269.47M1365.98 267.9L1375.22 267.3M1396.39 266.16L1405.61 265.79" stroke="#0000ff" stroke-width="1.2" fill="none"/>
<polygon points="838.6,392.7 829.5,408.3 847.7,408.3" fill="#0000ff"/>
<polygon points="869,375.45 859.9,391.05 878.1,391.05" fill="#0000ff"/>
<polygon points="899.4,360.45 890.3,376.05 908.5,376.05" fill="#0000ff"/>
<polygon points="929.8,349.7 920.7,365.3 938.9,365.3" fill="#0000ff"/>
<polygon points="960.2,341.2 951.1,356.8 969.3,356.8" fill="#0000ff"/>
<polygon points="990.6,333.45 981.5,349.05 999.7,349.05" fill="#0000ff"/>
<polygon points="1021,325.95 1011.9,341.55 1030.1,341.55" fill="#0000ff"/>
<polygon points="1051.4,318.45 1042.3,334.05 1060.5,334.05" fill="#0000ff"/>
<polygon points="1081.8,310.45 1072.7,326.05 1090.9,326.05" fill="#0000ff"/>
<polygon points="1112.2,302.95 1103.1,318.55 1121.3,318.55" fill="#0000ff"/>
<polygon points="1142.6,294.95 1133.5,310.55 1151.7,310.55" fill="#0000ff"/>
<polygon points="1173,287.7 1163.9,303.3 1182.1,303.3" fill="#0000ff"/>
<polygon points="1203.4,281.2 1194.3,296.8 1212.5,296.8" fill="#0000ff"/>
<polygon points="1233.8,275.1 1224.7,290.7 1242.9,290.7" fill="#0000ff"/>
<polygon points="1264.2,269.3 1255.1,284.9 1273.3,284.9" fill="#0000ff"/>
<polygon points="1294.6,264.45 1285.5,280.05 1303.7,280.05" fill="#0000ff"/>
<polygon points="1325,260.7 1315.9,276.3 1334.1,276.3" fill="#0000ff"/>
<polygon points="1355.4,258.2 1346.3,273.8 1364.5,273.8" fill="#0000ff"/>
<polygon points="1385.8,256.2 1376.7,271.8 1394.9,271.8" fill="#0000ff"/>
<polygon points="1416.2,254.95 1407.1,270.55 1425.3,270.55" fill="#0000ff"/>
<path d="M846.4 387.72L861.2 374.08M877.29 360.29L891.11 349.26M909.06 338.28L920.14 333.27M939.84 325.51L950.16 322.04M970.34 315.56L980.46 312.49M1000.76 306.39L1010.84 303.41M1031.14 297.31L1041.26 294.24M1061.47 287.84L1071.73 284.46M1091.85 277.79L1102.15 274.36M1122.25 267.63L1132.55 264.17M1152.66 257.46L1162.94 254.04M1183.06 247.37L1193.34 243.98M1213.53 237.53L1223.67 234.42M1243.98 228.35L1254.02 225.45M1274.48 219.9L1284.32 217.4M1304.97 212.62L1314.63 210.58M1335.41 206.38L1344.99 204.52M1365.85 200.75L1375.35 199.15M1396.34 196.27L1405.66 195.28" stroke="#ff00ff" stroke-width="1.2" fill="none"/>
<polygon points="829.5,389.7 847.7,389.7 838.6,405.3" fill="#ff00ff"/>
<polygon points="859.9,361.7 878.1,361.7 869,377.3" fill="#ff00ff"/>
<polygon points="890.3,337.45 908.5,337.45 899.4,353.05" fill="#ff00ff"/>
<polygon points="920.7,323.7 938.9,323.7 929.8,339.3" fill="#ff00ff"/>
<polygon points="951.1,313.45 969.3,313.45 960.2,329.05" fill="#ff00ff"/>
<polygon points="981.5,304.2 999.7,304.2 990.6,319.8" fill="#ff00ff"/>
<polygon points="1011.9,295.2 1030.1,295.2 1021,310.8" fill="#ff00ff"/>
<polygon points="1042.3,285.95 1060.5,285.95 1051.4,301.55" fill="#ff00ff"/>
<polygon points="1072.7,275.95 1090.9,275.95 1081.8,291.55" fill="#ff00ff"/>
<polygon points="1103.1,265.8 1121.3,265.8 1112.2,281.4" fill="#ff00ff"/>
<polygon points="1133.5,255.6 1151.7,255.6 1142.6,271.2" fill="#ff00ff"/>
<polygon points="1163.9,245.5 1182.1,245.5 1173,261.1" fill="#ff00ff"/>
<polygon points="1194.3,235.45 1212.5,235.45 1203.4,251.05" fill="#ff00ff"/>
<polygon points="1224.7,226.1 1242.9,226.1 1233.8,241.7" fill="#ff00ff"/>
<polygon points="1255.1,217.3 1273.3,217.3 1264.2,232.9" fill="#ff00ff"/>
<polygon points="1285.5,209.6 1303.7,209.6 1294.6,225.2" fill="#ff00ff"/>
<polygon points="1315.9,203.2 1334.1,203.2 1325,218.8" fill="#ff00ff"/>
<polygon points="1346.3,197.3 1364.5,197.3 1355.4,212.9" fill="#ff00ff"/>
<polygon points="1376.7,192.2 1394.9,192.2 1385.8,207.8" fill="#ff00ff"/>
<polygon points="1407.1,188.95 1425.3,188.95 1416.2,204.55" fill="#ff00ff"/>
<path d="M844.25 377.83L863.35 345.17M877.07 327.73L891.33 314.02M909.51 301.43L919.69 296.57M940.44 288.25L949.56 285.25M970.79 278.09L980.01 274.91M1001.19 267.59L1010.41 264.41M1031.5 256.86L1040.9 253.39M1061.76 245.24L1071.44 241.26M1092.1 232.6L1101.9 228.4M1122.47 219.53L1132.33 215.22M1152.87 206.28L1162.73 201.97M1183.29 193.07L1193.11 188.83M1213.77 180.17L1223.43 176.23M1244.28 168.04L1253.72 164.46M1274.65 156.46L1284.15 152.79M1305.29 145.41L1314.31 142.59M1335.79 136.23L1344.61 133.77M1366.35 128.41L1374.85 126.59M1396.82 122.26L1405.18 120.74" stroke="#008000" stroke-width="1.2" fill="none"/>
<polygon points="838.6,378.1 848,387.5 838.6,396.9 829.2,387.5" fill="#008000"/>
<polygon points="869,326.1 878.4,335.5 869,344.9 859.6,335.5" fill="#008000"/>
<polygon points="899.4,296.85 908.8,306.25 899.4,315.65 890,306.25" fill="#008000"/>
<polygon points="929.8,282.35 939.2,291.75 929.8,301.15 920.4,291.75" fill="#008000"/>
<polygon points="960.2,272.35 969.6,281.75 960.2,291.15 950.8,281.75" fill="#008000"/>
<polygon points="990.6,261.85 1000,271.25 990.6,280.65 981.2,271.25" fill="#008000"/>
<polygon points="1021,251.35 1030.4,260.75 1021,270.15 1011.6,260.75" fill="#008000"/>
<polygon points="1051.4,240.1 1060.8,249.5 1051.4,258.9 1042,249.5" fill="#008000"/>
<polygon points="1081.8,227.6 1091.2,237 1081.8,246.4 1072.4,237" fill="#008000"/>
<polygon points="1112.2,214.6 1121.6,224 1112.2,233.4 1102.8,224" fill="#008000"/>
<polygon points="1142.6,201.35 1152,210.75 1142.6,220.15 1133.2,210.75" fill="#008000"/>
<polygon points="1173,188.1 1182.4,197.5 1173,206.9 1163.6,197.5" fill="#008000"/>
<polygon points="1203.4,175 1212.8,184.4 1203.4,193.8 1194,184.4" fill="#008000"/>
<polygon points="1233.8,162.6 1243.2,172 1233.8,181.4 1224.4,172" fill="#008000"/>
<polygon points="1264.2,151.1 1273.6,160.5 1264.2,169.9 1254.8,160.5" fill="#008000"/>
<polygon points="1294.6,139.35 1304,148.75 1294.6,158.15 1285.2,148.75" fill="#008000"/>
<polygon points="1325,129.85 1334.4,139.25 1325,148.65 1315.6,139.25" fill="#008000"/>
<polygon points="1355.4,121.35 1364.8,130.75 1355.4,140.15 1346,130.75" fill="#008000"/>
<polygon points="1385.8,114.85 1395.2,124.25 1385.8,133.65 1376.4,124.25" fill="#008000"/>
<polygon points="1416.2,109.35 1425.6,118.75 1416.2,128.15 1406.8,118.75" fill="#008000"/>
<path d="M842.43 364.4L865.17 304.35M876.56 286.54L891.84 270.96M909.24 258.8L919.96 253.95M940.06 246.13L949.94 242.87M970.38 235.9L980.42 232.35M1000.73 225L1010.87 221.25M1030.93 213.25L1041.47 208.75M1061.15 199.85L1072.05 194.65M1091.29 184.85L1102.71 178.65M1121.82 168.59L1132.98 162.91M1151.96 152.61L1163.64 145.89M1182.46 135.29L1193.94 128.96M1212.92 118.66L1224.28 112.59M1243.42 102.59L1254.58 96.91M1273.95 87.35L1284.85 82.15M1304.5 73.18L1315.1 68.57M1335.02 60.21L1345.38 56.04M1365.71 48.78L1375.49 45.72M1396.22 39.67L1405.78 37.08" stroke="#000080" stroke-width="1.2" fill="none"/>
<polygon points="828.2,374.5 843.8,365.4 843.8,383.6" fill="#000080"/>
<polygon points="858.6,294.25 874.2,285.15 874.2,303.35" fill="#000080"/>
<polygon points="889,263.25 904.6,254.15 904.6,272.35" fill="#000080"/>
<polygon points="919.4,249.5 935,240.4 935,258.6" fill="#000080"/>
<polygon points="949.8,239.5 965.4,230.4 965.4,248.6" fill="#000080"/>
<polygon points="980.2,228.75 995.8,219.65 995.8,237.85" fill="#000080"/>
<polygon points="1010.6,217.5 1026.2,208.4 1026.2,226.6" fill="#000080"/>
<polygon points="1041,204.5 1056.6,195.4 1056.6,213.6" fill="#000080"/>
<polygon points="1071.4,190 1087,180.9 1087,199.1" fill="#000080"/>
<polygon points="1101.8,173.5 1117.4,164.4 1117.4,182.6" fill="#000080"/>
<polygon points="1132.2,158 1147.8,148.9 1147.8,167.1" fill="#000080"/>
<polygon points="1162.6,140.5 1178.2,131.4 1178.2,149.6" fill="#000080"/>
<polygon points="1193,123.75 1208.6,114.65 1208.6,132.85" fill="#000080"/>
<polygon points="1223.4,107.5 1239,98.4 1239,116.6" fill="#000080"/>
<polygon points="1253.8,92 1269.4,82.9 1269.4,101.1" fill="#000080"/>
<polygon points="1284.2,77.5 1299.8,68.4 1299.8,86.6" fill="#000080"/>
<polygon points="1314.6,64.25 1330.2,55.15 1330.2,73.35" fill="#000080"/>
<polygon points="1345,52 1360.6,42.9 1360.6,61.1" fill="#000080"/>
<polygon points="1375.4,42.5 1391,33.4 1391,51.6" fill="#000080"/>
<polygon points="1405.8,34.25 1421.4,25.15 1421.4,43.35" fill="#000080"/>
</g>
<rect x="808.7" y="2.7" width="620" height="413.2" fill="none" stroke="#000" stroke-width="2.3"/>
<text x="820" y="33.3" font-size="28" fill="#000080">V<tspan font-size="19.4" dy="8.5">GFB</tspan></text>
<text x="888.6" y="33.3" font-size="28" fill="#000080" text-anchor="start" >12V</text>
<text x="860.8" y="110" font-size="28.8" fill="#ff0000" text-anchor="start" >step 2V</text>
<text x="823.7" y="166.7" font-size="28" fill="#000000">V<tspan font-size="19.4" dy="8.5">GFB</tspan></text>
<text x="892.3" y="166.7" font-size="28" fill="#000000" text-anchor="start" >2V</text>
<line x1="852.8" y1="151.7" x2="852.8" y2="60" stroke="#000" stroke-width="2"/>
<polygon points="852.8,43.7 844.05,61 861.55,61" fill="#000"/>
<text x="1226" y="45.75" font-size="40" fill="#000" text-anchor="start" font-weight="bold" >(b)</text>
<text x="792.3" y="427.27" font-size="36.5" fill="#000" text-anchor="end" >0</text>
<text x="792.3" y="318.8" font-size="36.5" fill="#000" text-anchor="end" >1</text>
<text x="792.3" y="210.33" font-size="36.5" fill="#000" text-anchor="end" >2</text>
<text x="792.3" y="101.86" font-size="36.5" fill="#000" text-anchor="end" >3</text>
<text x="808.2" y="460" font-size="36.5" fill="#000" text-anchor="middle" >0</text>
<text x="929.8" y="460" font-size="36.5" fill="#000" text-anchor="middle" >20</text>
<text x="1051.4" y="460" font-size="36.5" fill="#000" text-anchor="middle" >40</text>
<text x="1173" y="460" font-size="36.5" fill="#000" text-anchor="middle" >60</text>
<text x="1294.6" y="460" font-size="36.5" fill="#000" text-anchor="middle" >80</text>
<text x="1417.7" y="460" font-size="36.5" fill="#000" text-anchor="middle" >100</text>
<text transform="translate(766.7 416.8) rotate(-90)" font-size="40.5" fill="#000">Discharge Current (µA)</text>
<text x="970.2" y="497.5" font-size="40.6" fill="#000" text-anchor="start" >Frequency (kHz)</text>
<rect x="808.7" y="538.1" width="620" height="413.7" fill="none" stroke="#000" stroke-width="2.3"/>
<clipPath id="ce"><rect x="808.7" y="537.9" width="620" height="413.3"/></clipPath><g clip-path="url(#ce)">
<path d="M879.16 944.58L889.24 942.92M909.64 940.16L919.56 939.09M940.07 937.16L949.93 936.34M970.47 934.74L980.33 934.01M1000.88 932.57L1010.72 931.93M1031.29 930.83L1041.11 930.42M1061.69 929.58L1071.51 929.17M1092.1 928.45L1101.9 928.15M1122.5 927.56L1132.3 927.29M1152.9 926.83L1162.7 926.67M1183.3 926.42L1193.1 926.33M1213.7 926.17L1223.5 926.08M1244.1 926.14L1253.9 926.26M1274.5 926.6L1284.3 926.8M1304.9 927.25L1314.7 927.5M1335.3 928L1345.1 928.25M1365.7 928.67L1375.5 928.83M1396.1 929.17L1405.9 929.33" stroke="#000000" stroke-width="1.2" fill="none"/>
<rect x="862.4" y="939.65" width="13.2" height="13.2" fill="#000000"/>
<rect x="892.8" y="934.65" width="13.2" height="13.2" fill="#000000"/>
<rect x="923.2" y="931.4" width="13.2" height="13.2" fill="#000000"/>
<rect x="953.6" y="928.9" width="13.2" height="13.2" fill="#000000"/>
<rect x="984" y="926.65" width="13.2" height="13.2" fill="#000000"/>
<rect x="1014.4" y="924.65" width="13.2" height="13.2" fill="#000000"/>
<rect x="1044.8" y="923.4" width="13.2" height="13.2" fill="#000000"/>
<rect x="1075.2" y="922.15" width="13.2" height="13.2" fill="#000000"/>
<rect x="1105.6" y="921.25" width="13.2" height="13.2" fill="#000000"/>
<rect x="1136" y="920.4" width="13.2" height="13.2" fill="#000000"/>
<rect x="1166.4" y="919.9" width="13.2" height="13.2" fill="#000000"/>
<rect x="1196.8" y="919.65" width="13.2" height="13.2" fill="#000000"/>
<rect x="1227.2" y="919.4" width="13.2" height="13.2" fill="#000000"/>
<rect x="1257.6" y="919.8" width="13.2" height="13.2" fill="#000000"/>
<rect x="1288" y="920.4" width="13.2" height="13.2" fill="#000000"/>
<rect x="1318.4" y="921.15" width="13.2" height="13.2" fill="#000000"/>
<rect x="1348.8" y="921.9" width="13.2" height="13.2" fill="#000000"/>
<rect x="1379.2" y="922.4" width="13.2" height="13.2" fill="#000000"/>
<rect x="1409.6" y="922.9" width="13.2" height="13.2" fill="#000000"/>
<path d="M879.12 936.84L889.28 934.41M909.62 930.07L919.58 928.18M940.09 924.73L949.91 923.27M970.5 920.31L980.3 918.94M1000.92 916.23L1010.68 915.02M1031.34 912.64L1041.06 911.61M1061.73 909.31L1071.47 908.19M1092.12 905.68L1101.88 904.42M1122.55 902.04L1132.25 901.06M1152.95 898.94L1162.65 897.96M1183.36 895.95L1193.04 895.05M1213.77 893.25L1223.43 892.45M1244.18 890.88L1253.82 890.22M1274.59 888.99L1284.21 888.51M1304.99 887.57L1314.61 887.18M1335.4 886.49L1345 886.26M1365.8 885.83L1375.4 885.67M1396.2 885.5L1405.8 885.5" stroke="#ff0000" stroke-width="1.2" fill="none"/>
<circle cx="869" cy="939.25" r="7.8" fill="#ff0000"/>
<circle cx="899.4" cy="932" r="7.8" fill="#ff0000"/>
<circle cx="929.8" cy="926.25" r="7.8" fill="#ff0000"/>
<circle cx="960.2" cy="921.75" r="7.8" fill="#ff0000"/>
<circle cx="990.6" cy="917.5" r="7.8" fill="#ff0000"/>
<circle cx="1021" cy="913.75" r="7.8" fill="#ff0000"/>
<circle cx="1051.4" cy="910.5" r="7.8" fill="#ff0000"/>
<circle cx="1081.8" cy="907" r="7.8" fill="#ff0000"/>
<circle cx="1112.2" cy="903.1" r="7.8" fill="#ff0000"/>
<circle cx="1142.6" cy="900" r="7.8" fill="#ff0000"/>
<circle cx="1173" cy="896.9" r="7.8" fill="#ff0000"/>
<circle cx="1203.4" cy="894.1" r="7.8" fill="#ff0000"/>
<circle cx="1233.8" cy="891.6" r="7.8" fill="#ff0000"/>
<circle cx="1264.2" cy="889.5" r="7.8" fill="#ff0000"/>
<circle cx="1294.6" cy="888" r="7.8" fill="#ff0000"/>
<circle cx="1325" cy="886.75" r="7.8" fill="#ff0000"/>
<circle cx="1355.4" cy="886" r="7.8" fill="#ff0000"/>
<circle cx="1385.8" cy="885.5" r="7.8" fill="#ff0000"/>
<circle cx="1416.2" cy="885.5" r="7.8" fill="#ff0000"/>
<path d="M878.89 923.78L889.51 919.67M909.54 912.76L919.66 909.69M940.22 904.63L949.78 902.82M970.66 899.13L980.14 897.57M1001.06 894.13L1010.54 892.57M1031.46 889.13L1040.94 887.57M1061.8 883.8L1071.4 881.9M1092.28 878.25L1101.72 876.8M1122.66 873.48L1132.14 871.92M1153 868.15L1162.6 866.25M1183.46 862.48L1192.94 860.92M1213.85 857.41L1223.35 855.79M1244.3 852.52L1253.7 851.18M1274.68 848.11L1284.12 846.69M1305.14 843.97L1314.46 842.98M1335.53 840.64L1344.87 839.56M1365.96 837.48L1375.24 836.72M1396.38 835.15L1405.62 834.55" stroke="#0000ff" stroke-width="1.2" fill="none"/>
<polygon points="869,917.2 859.9,932.8 878.1,932.8" fill="#0000ff"/>
<polygon points="899.4,905.45 890.3,921.05 908.5,921.05" fill="#0000ff"/>
<polygon points="929.8,896.2 920.7,911.8 938.9,911.8" fill="#0000ff"/>
<polygon points="960.2,890.45 951.1,906.05 969.3,906.05" fill="#0000ff"/>
<polygon points="990.6,885.45 981.5,901.05 999.7,901.05" fill="#0000ff"/>
<polygon points="1021,880.45 1011.9,896.05 1030.1,896.05" fill="#0000ff"/>
<polygon points="1051.4,875.45 1042.3,891.05 1060.5,891.05" fill="#0000ff"/>
<polygon points="1081.8,869.45 1072.7,885.05 1090.9,885.05" fill="#0000ff"/>
<polygon points="1112.2,864.8 1103.1,880.4 1121.3,880.4" fill="#0000ff"/>
<polygon points="1142.6,859.8 1133.5,875.4 1151.7,875.4" fill="#0000ff"/>
<polygon points="1173,853.8 1163.9,869.4 1182.1,869.4" fill="#0000ff"/>
<polygon points="1203.4,848.8 1194.3,864.4 1212.5,864.4" fill="#0000ff"/>
<polygon points="1233.8,843.6 1224.7,859.2 1242.9,859.2" fill="#0000ff"/>
<polygon points="1264.2,839.3 1255.1,854.9 1273.3,854.9" fill="#0000ff"/>
<polygon points="1294.6,834.7 1285.5,850.3 1303.7,850.3" fill="#0000ff"/>
<polygon points="1325,831.45 1315.9,847.05 1334.1,847.05" fill="#0000ff"/>
<polygon points="1355.4,827.95 1346.3,843.55 1364.5,843.55" fill="#0000ff"/>
<polygon points="1385.8,825.45 1376.7,841.05 1394.9,841.05" fill="#0000ff"/>
<polygon points="1416.2,823.45 1407.1,839.05 1425.3,839.05" fill="#0000ff"/>
<path d="M878.44 900.34L889.96 894.46M909.39 886.12L919.81 882.43M940.18 876.77L949.82 874.78M970.58 870.52L980.22 868.53M1000.98 864.27L1010.62 862.28M1031.43 858.26L1040.97 856.54M1061.63 851.87L1071.57 849.18M1092.14 844.05L1101.86 841.85M1122.51 837.06L1132.29 834.74M1152.96 830.03L1162.64 827.92M1183.34 823.32L1193.06 821.13M1213.66 816.13L1223.54 813.57M1244.17 808.68L1253.83 806.62M1274.53 802.02L1284.27 799.78M1304.95 795.1L1314.65 792.95M1335.38 788.52L1345.02 786.53M1365.82 782.43L1375.38 780.62M1396.31 777.27L1405.69 776.03" stroke="#ff00ff" stroke-width="1.2" fill="none"/>
<polygon points="859.9,899.95 878.1,899.95 869,915.55" fill="#ff00ff"/>
<polygon points="890.3,884.45 908.5,884.45 899.4,900.05" fill="#ff00ff"/>
<polygon points="920.7,873.7 938.9,873.7 929.8,889.3" fill="#ff00ff"/>
<polygon points="951.1,867.45 969.3,867.45 960.2,883.05" fill="#ff00ff"/>
<polygon points="981.5,861.2 999.7,861.2 990.6,876.8" fill="#ff00ff"/>
<polygon points="1011.9,854.95 1030.1,854.95 1021,870.55" fill="#ff00ff"/>
<polygon points="1042.3,849.45 1060.5,849.45 1051.4,865.05" fill="#ff00ff"/>
<polygon points="1072.7,841.2 1090.9,841.2 1081.8,856.8" fill="#ff00ff"/>
<polygon points="1103.1,834.3 1121.3,834.3 1112.2,849.9" fill="#ff00ff"/>
<polygon points="1133.5,827.1 1151.7,827.1 1142.6,842.7" fill="#ff00ff"/>
<polygon points="1163.9,820.45 1182.1,820.45 1173,836.05" fill="#ff00ff"/>
<polygon points="1194.3,813.6 1212.5,813.6 1203.4,829.2" fill="#ff00ff"/>
<polygon points="1224.7,805.7 1242.9,805.7 1233.8,821.3" fill="#ff00ff"/>
<polygon points="1255.1,799.2 1273.3,799.2 1264.2,814.8" fill="#ff00ff"/>
<polygon points="1285.5,792.2 1303.7,792.2 1294.6,807.8" fill="#ff00ff"/>
<polygon points="1315.9,785.45 1334.1,785.45 1325,801.05" fill="#ff00ff"/>
<polygon points="1346.3,779.2 1364.5,779.2 1355.4,794.8" fill="#ff00ff"/>
<polygon points="1376.7,773.45 1394.9,773.45 1385.8,789.05" fill="#ff00ff"/>
<polygon points="1407.1,769.45 1425.3,769.45 1416.2,785.05" fill="#ff00ff"/>
<path d="M878.43 872.7L889.97 865.3M909.99 855.59L919.21 852.41M940.71 846.24L949.29 844.26M971.13 839.32L979.67 837.43M1001.41 832.07L1010.19 829.68M1031.93 824.32L1040.47 822.43M1062.21 817.07L1070.99 814.68M1092.51 808.49L1101.49 805.76M1122.93 799.29L1131.87 796.61M1153.21 789.81L1162.39 786.69M1183.71 779.81L1192.69 777.04M1213.99 770.09L1223.21 766.91M1244.45 759.8L1253.55 756.85M1274.88 750.01L1283.92 747.14M1305.19 740.09L1314.41 736.91M1335.81 730.32L1344.59 727.93M1366.23 722.15L1374.97 719.85M1396.71 714.49L1405.29 712.51" stroke="#008000" stroke-width="1.2" fill="none"/>
<polygon points="869,869.35 878.4,878.75 869,888.15 859.6,878.75" fill="#008000"/>
<polygon points="899.4,849.85 908.8,859.25 899.4,868.65 890,859.25" fill="#008000"/>
<polygon points="929.8,839.35 939.2,848.75 929.8,858.15 920.4,848.75" fill="#008000"/>
<polygon points="960.2,832.35 969.6,841.75 960.2,851.15 950.8,841.75" fill="#008000"/>
<polygon points="990.6,825.6 1000,835 990.6,844.4 981.2,835" fill="#008000"/>
<polygon points="1021,817.35 1030.4,826.75 1021,836.15 1011.6,826.75" fill="#008000"/>
<polygon points="1051.4,810.6 1060.8,820 1051.4,829.4 1042,820" fill="#008000"/>
<polygon points="1081.8,802.35 1091.2,811.75 1081.8,821.15 1072.4,811.75" fill="#008000"/>
<polygon points="1112.2,793.1 1121.6,802.5 1112.2,811.9 1102.8,802.5" fill="#008000"/>
<polygon points="1142.6,784 1152,793.4 1142.6,802.8 1133.2,793.4" fill="#008000"/>
<polygon points="1173,773.7 1182.4,783.1 1173,792.5 1163.6,783.1" fill="#008000"/>
<polygon points="1203.4,764.35 1212.8,773.75 1203.4,783.15 1194,773.75" fill="#008000"/>
<polygon points="1233.8,753.85 1243.2,763.25 1233.8,772.65 1224.4,763.25" fill="#008000"/>
<polygon points="1264.2,744 1273.6,753.4 1264.2,762.8 1254.8,753.4" fill="#008000"/>
<polygon points="1294.6,734.35 1304,743.75 1294.6,753.15 1285.2,743.75" fill="#008000"/>
<polygon points="1325,723.85 1334.4,733.25 1325,742.65 1315.6,733.25" fill="#008000"/>
<polygon points="1355.4,715.6 1364.8,725 1355.4,734.4 1346,725" fill="#008000"/>
<polygon points="1385.8,707.6 1395.2,717 1385.8,726.4 1376.4,717" fill="#008000"/>
<polygon points="1416.2,700.6 1425.6,710 1416.2,719.4 1406.8,710" fill="#008000"/>
<path d="M878.02 844.06L890.38 835.94M909.58 826.4L919.62 822.85M940.24 816.5L949.76 814M970.64 808.5L980.16 806M1000.98 800.26L1010.62 797.49M1031.38 791.51L1041.02 788.74M1061.58 782.15L1071.62 778.6M1092.06 771.63L1101.94 768.37M1122.33 761.25L1132.47 757.5M1152.57 749.6L1163.03 745.25M1183.01 737.04L1193.39 732.81M1213.3 724.43L1223.9 719.82M1243.73 711.25L1254.27 706.75M1274.04 698.05L1284.76 693.2M1304.53 684.5L1315.07 680M1334.99 671.64L1345.41 667.36M1365.53 659.5L1375.67 655.75M1396.06 648.63L1405.94 645.37" stroke="#000080" stroke-width="1.2" fill="none"/>
<polygon points="858.6,850 874.2,840.9 874.2,859.1" fill="#000080"/>
<polygon points="889,830 904.6,820.9 904.6,839.1" fill="#000080"/>
<polygon points="919.4,819.25 935,810.15 935,828.35" fill="#000080"/>
<polygon points="949.8,811.25 965.4,802.15 965.4,820.35" fill="#000080"/>
<polygon points="980.2,803.25 995.8,794.15 995.8,812.35" fill="#000080"/>
<polygon points="1010.6,794.5 1026.2,785.4 1026.2,803.6" fill="#000080"/>
<polygon points="1041,785.75 1056.6,776.65 1056.6,794.85" fill="#000080"/>
<polygon points="1071.4,775 1087,765.9 1087,784.1" fill="#000080"/>
<polygon points="1101.8,765 1117.4,755.9 1117.4,774.1" fill="#000080"/>
<polygon points="1132.2,753.75 1147.8,744.65 1147.8,762.85" fill="#000080"/>
<polygon points="1162.6,741.1 1178.2,732 1178.2,750.2" fill="#000080"/>
<polygon points="1193,728.75 1208.6,719.65 1208.6,737.85" fill="#000080"/>
<polygon points="1223.4,715.5 1239,706.4 1239,724.6" fill="#000080"/>
<polygon points="1253.8,702.5 1269.4,693.4 1269.4,711.6" fill="#000080"/>
<polygon points="1284.2,688.75 1299.8,679.65 1299.8,697.85" fill="#000080"/>
<polygon points="1314.6,675.75 1330.2,666.65 1330.2,684.85" fill="#000080"/>
<polygon points="1345,663.25 1360.6,654.15 1360.6,672.35" fill="#000080"/>
<polygon points="1375.4,652 1391,642.9 1391,661.1" fill="#000080"/>
<polygon points="1405.8,642 1421.4,632.9 1421.4,651.1" fill="#000080"/>
<path d="M877.85 813.81L890.55 804.94M909.66 795.38L919.54 792.12M940.18 785.76L949.82 782.99M970.58 777.01L980.22 774.24M1000.91 768.03L1010.69 764.97M1031.28 758.45L1041.12 755.3M1061.45 748.03L1071.75 743.97M1091.73 735.75L1102.27 731.25M1122.14 722.78L1132.66 718.32M1152.43 709.62L1163.17 704.73M1182.49 695.1L1193.91 688.9M1212.92 678.66L1224.28 672.59M1243.32 662.41L1254.68 656.34M1273.66 646.04L1285.14 639.71M1304.12 629.41L1315.48 623.34M1334.52 613.16L1345.88 607.09M1365.05 597.16L1376.15 591.59M1395.58 582.17L1406.42 577.08" stroke="#808000" stroke-width="1.2" fill="none"/>
<polygon points="879.4,820 863.8,810.9 863.8,829.1" fill="#808000"/>
<polygon points="909.8,798.75 894.2,789.65 894.2,807.85" fill="#808000"/>
<polygon points="940.2,788.75 924.6,779.65 924.6,797.85" fill="#808000"/>
<polygon points="970.6,780 955,770.9 955,789.1" fill="#808000"/>
<polygon points="1001,771.25 985.4,762.15 985.4,780.35" fill="#808000"/>
<polygon points="1031.4,761.75 1015.8,752.65 1015.8,770.85" fill="#808000"/>
<polygon points="1061.8,752 1046.2,742.9 1046.2,761.1" fill="#808000"/>
<polygon points="1092.2,740 1076.6,730.9 1076.6,749.1" fill="#808000"/>
<polygon points="1122.6,727 1107,717.9 1107,736.1" fill="#808000"/>
<polygon points="1153,714.1 1137.4,705 1137.4,723.2" fill="#808000"/>
<polygon points="1183.4,700.25 1167.8,691.15 1167.8,709.35" fill="#808000"/>
<polygon points="1213.8,683.75 1198.2,674.65 1198.2,692.85" fill="#808000"/>
<polygon points="1244.2,667.5 1228.6,658.4 1228.6,676.6" fill="#808000"/>
<polygon points="1274.6,651.25 1259,642.15 1259,660.35" fill="#808000"/>
<polygon points="1305,634.5 1289.4,625.4 1289.4,643.6" fill="#808000"/>
<polygon points="1335.4,618.25 1319.8,609.15 1319.8,627.35" fill="#808000"/>
<polygon points="1365.8,602 1350.2,592.9 1350.2,611.1" fill="#808000"/>
<polygon points="1396.2,586.75 1380.6,577.65 1380.6,595.85" fill="#808000"/>
<polygon points="1426.6,572.5 1411,563.4 1411,581.6" fill="#808000"/>
</g>
<rect x="808.7" y="538.1" width="620" height="413.7" fill="none" stroke="#000" stroke-width="2.3"/>
<text x="820" y="568.7" font-size="28" fill="#808000">V<tspan font-size="19.4" dy="8.5">GFB</tspan></text>
<text x="888.6" y="568.7" font-size="28" fill="#808000" text-anchor="start" >14V</text>
<text x="879.1" y="640" font-size="28.8" fill="#ff0000" text-anchor="start" >step 2V</text>
<text x="823.7" y="703.3" font-size="28" fill="#000000">V<tspan font-size="19.4" dy="8.5">GFB</tspan></text>
<text x="892.3" y="703.3" font-size="28" fill="#000000" text-anchor="start" >2V</text>
<line x1="873" y1="680.3" x2="873" y2="588.8" stroke="#000" stroke-width="2"/>
<polygon points="873,572.5 864.25,589.8 881.75,589.8" fill="#000"/>
<text x="1235.5" y="586.75" font-size="40" fill="#000" text-anchor="start" font-weight="bold" >(e)</text>
<text x="789.8" y="964.77" font-size="36.5" fill="#000" text-anchor="end" >0</text>
<text x="789.8" y="832.67" font-size="36.5" fill="#000" text-anchor="end" >2</text>
<text x="789.8" y="700.57" font-size="36.5" fill="#000" text-anchor="end" >4</text>
<text x="789.8" y="568.47" font-size="36.5" fill="#000" text-anchor="end" >6</text>
<text x="808.2" y="997.8" font-size="36.5" fill="#000" text-anchor="middle" >0</text>
<text x="929.8" y="997.8" font-size="36.5" fill="#000" text-anchor="middle" >20</text>
<text x="1051.4" y="997.8" font-size="36.5" fill="#000" text-anchor="middle" >40</text>
<text x="1173" y="997.8" font-size="36.5" fill="#000" text-anchor="middle" >60</text>
<text x="1294.6" y="997.8" font-size="36.5" fill="#000" text-anchor="middle" >80</text>
<text x="1417.7" y="997.8" font-size="36.5" fill="#000" text-anchor="middle" >100</text>
<text transform="translate(759.2 952.2) rotate(-90)" font-size="40.5" fill="#000">Discharge Current (µA)</text>
<text x="968.9" y="1038" font-size="40.6" fill="#000" text-anchor="start" >Frequency (kHz)</text>
<rect x="1526" y="2.7" width="310" height="413.2" fill="none" stroke="#000" stroke-width="2.3"/>
<path d="M1543.38 372.78L1552.81 340.32M1558.6 322.24L1567.05 298.16M1575.24 281.15L1579.87 273.75M1591.14 258.52L1593.43 255.88M1606.22 241.83L1607.81 240.17M1620.81 226.31L1622.68 224.29M1635.42 210.19L1637.53 207.81M1650.06 193.52L1652.35 190.88M1664.59 176.35L1667.28 173.05M1679.34 158.36L1681.99 155.14M1694.15 140.53L1696.64 137.57M1708.92 123.07L1711.33 120.23M1723.71 105.82L1726 103.18M1739.08 89.43L1740.09 88.47" stroke="#000" stroke-width="0.8" stroke-dasharray="2 1.6" fill="none"/>
<rect x="1534.13" y="375.3" width="13.2" height="13.2" fill="#000000"/>
<rect x="1548.86" y="324.6" width="13.2" height="13.2" fill="#000000"/>
<rect x="1563.59" y="282.6" width="13.2" height="13.2" fill="#000000"/>
<rect x="1578.32" y="259.1" width="13.2" height="13.2" fill="#000000"/>
<rect x="1593.05" y="242.1" width="13.2" height="13.2" fill="#000000"/>
<rect x="1607.78" y="226.7" width="13.2" height="13.2" fill="#000000"/>
<rect x="1622.51" y="210.7" width="13.2" height="13.2" fill="#000000"/>
<rect x="1637.24" y="194.1" width="13.2" height="13.2" fill="#000000"/>
<rect x="1651.97" y="177.1" width="13.2" height="13.2" fill="#000000"/>
<rect x="1666.7" y="159.1" width="13.2" height="13.2" fill="#000000"/>
<rect x="1681.43" y="141.2" width="13.2" height="13.2" fill="#000000"/>
<rect x="1696.16" y="123.7" width="13.2" height="13.2" fill="#000000"/>
<rect x="1710.89" y="106.4" width="13.2" height="13.2" fill="#000000"/>
<rect x="1725.62" y="89.4" width="13.2" height="13.2" fill="#000000"/>
<rect x="1740.35" y="75.3" width="13.2" height="13.2" fill="#000000"/>
<rect x="1755.08" y="61.8" width="13.2" height="13.2" fill="#000000"/>
<rect x="1769.81" y="49.9" width="13.2" height="13.2" fill="#000000"/>
<rect x="1784.54" y="40.5" width="13.2" height="13.2" fill="#000000"/>
<rect x="1799.27" y="32.4" width="13.2" height="13.2" fill="#000000"/>
<rect x="1814" y="26.9" width="13.2" height="13.2" fill="#000000"/>
<line x1="1535.4" y1="323.5" x2="1796.2" y2="24.5" stroke="#ff0000" stroke-width="1.8"/>
<line x1="1531" y1="73.4" x2="1589" y2="73.4" stroke="#000" stroke-width="0.8" stroke-dasharray="2.2 1.5"/>
<rect x="1553.3" y="67" width="12.8" height="12.8" fill="#000000"/>
<text x="1595" y="81.9" font-size="25.7" fill="#000" text-anchor="start" >Expt. data</text>
<line x1="1530.5" y1="104.1" x2="1588.5" y2="104.1" stroke="#ff0000" stroke-width="1.6"/>
<text x="1595" y="113" font-size="25.7" fill="#ff0000" text-anchor="start" >Linear Fit</text>
<text x="1677" y="42.4" font-size="40" fill="#000" text-anchor="start" font-weight="bold" >(c)</text>
<text x="1519.3" y="427.37" font-size="36.5" fill="#000" text-anchor="end" >0</text>
<text x="1519.3" y="239.37" font-size="36.5" fill="#000" text-anchor="end" >1</text>
<text x="1519.3" y="51.27" font-size="36.5" fill="#000" text-anchor="end" >2</text>
<text x="1526" y="456" font-size="36.5" fill="#000" text-anchor="middle" >0</text>
<text x="1599.65" y="456" font-size="36.5" fill="#000" text-anchor="middle" >25</text>
<text x="1673.3" y="456" font-size="36.5" fill="#000" text-anchor="middle" >50</text>
<text x="1746.95" y="456" font-size="36.5" fill="#000" text-anchor="middle" >75</text>
<text x="1822.6" y="456" font-size="36.5" fill="#000" text-anchor="middle" >100</text>
<text transform="translate(1491.1 411) rotate(-90)" font-size="39.2" fill="#000">Discharge Current (µA)</text>
<text x="1541.9" y="493.6" font-size="39.2" fill="#000" text-anchor="start" >Frequency(kHz)</text>
<rect x="1526" y="538.1" width="310" height="413.7" fill="none" stroke="#000" stroke-width="2.3"/>
<path d="M1558.99 907.28L1566.66 888.12M1574.37 870.77L1580.74 857.73M1591.27 842.13L1593.3 839.87M1606 825.73L1608.03 823.47M1620.97 809.56L1622.52 807.94M1635.46 794.03L1637.49 791.77M1649.62 777.16L1652.79 773.04M1665.29 758.79L1666.58 757.51M1679.87 743.93L1681.46 742.27M1693.74 727.81L1697.05 723.39M1709.39 709L1710.86 707.5M1723.67 693.48L1726.04 690.72M1753.72 663.64L1754.91 662.46" stroke="#000" stroke-width="0.8" stroke-dasharray="2 1.6" fill="none"/>
<rect x="1548.86" y="909.5" width="13.2" height="13.2" fill="#000000"/>
<rect x="1563.59" y="872.7" width="13.2" height="13.2" fill="#000000"/>
<rect x="1578.32" y="842.6" width="13.2" height="13.2" fill="#000000"/>
<rect x="1593.05" y="826.2" width="13.2" height="13.2" fill="#000000"/>
<rect x="1607.78" y="809.8" width="13.2" height="13.2" fill="#000000"/>
<rect x="1622.51" y="794.5" width="13.2" height="13.2" fill="#000000"/>
<rect x="1637.24" y="778.1" width="13.2" height="13.2" fill="#000000"/>
<rect x="1651.97" y="758.9" width="13.2" height="13.2" fill="#000000"/>
<rect x="1666.7" y="744.2" width="13.2" height="13.2" fill="#000000"/>
<rect x="1681.43" y="728.8" width="13.2" height="13.2" fill="#000000"/>
<rect x="1696.16" y="709.2" width="13.2" height="13.2" fill="#000000"/>
<rect x="1710.89" y="694.1" width="13.2" height="13.2" fill="#000000"/>
<rect x="1725.62" y="676.9" width="13.2" height="13.2" fill="#000000"/>
<rect x="1740.35" y="663.7" width="13.2" height="13.2" fill="#000000"/>
<rect x="1755.08" y="649.2" width="13.2" height="13.2" fill="#000000"/>
<rect x="1769.81" y="639.8" width="13.2" height="13.2" fill="#000000"/>
<rect x="1784.54" y="627.9" width="13.2" height="13.2" fill="#000000"/>
<rect x="1799.27" y="619.4" width="13.2" height="13.2" fill="#000000"/>
<rect x="1814" y="614.4" width="13.2" height="13.2" fill="#000000"/>
<line x1="1540.4" y1="899.7" x2="1776.8" y2="634.1" stroke="#ff0000" stroke-width="1.8"/>
<line x1="1538.2" y1="621.3" x2="1598.3" y2="621.3" stroke="#000" stroke-width="0.8" stroke-dasharray="2 1.6"/>
<rect x="1562.1" y="614.7" width="13.2" height="13.2" fill="#000000"/>
<text x="1605.3" y="629.8" font-size="26.8" fill="#000" text-anchor="start" >Expt. data</text>
<line x1="1538.2" y1="653.9" x2="1598.9" y2="653.9" stroke="#ff0000" stroke-width="1.6"/>
<text x="1605.3" y="663.1" font-size="26.8" fill="#ff0000" text-anchor="start" >Fit Linear</text>
<text x="1706.5" y="582.7" font-size="40" fill="#000" text-anchor="start" font-weight="bold" >(f)</text>
<text x="1516.5" y="795.57" font-size="36.5" fill="#000" text-anchor="end" >1</text>
<text x="1516.5" y="589.32" font-size="36.5" fill="#000" text-anchor="end" >2</text>
<text x="1526" y="991.1" font-size="36.5" fill="#000" text-anchor="middle" >0</text>
<text x="1599.65" y="991.1" font-size="36.5" fill="#000" text-anchor="middle" >25</text>
<text x="1673.3" y="991.1" font-size="36.5" fill="#000" text-anchor="middle" >50</text>
<text x="1746.95" y="991.1" font-size="36.5" fill="#000" text-anchor="middle" >75</text>
<text x="1822.6" y="991.1" font-size="36.5" fill="#000" text-anchor="middle" >100</text>
<text transform="translate(1486.2 965.6) rotate(-90)" font-size="39.2" fill="#000">Discharge Current (µA)</text>
<text x="1536.3" y="1032.3" font-size="39.25" fill="#000" text-anchor="start" >Frequency (kHz)</text>
</svg>
</body></html>
